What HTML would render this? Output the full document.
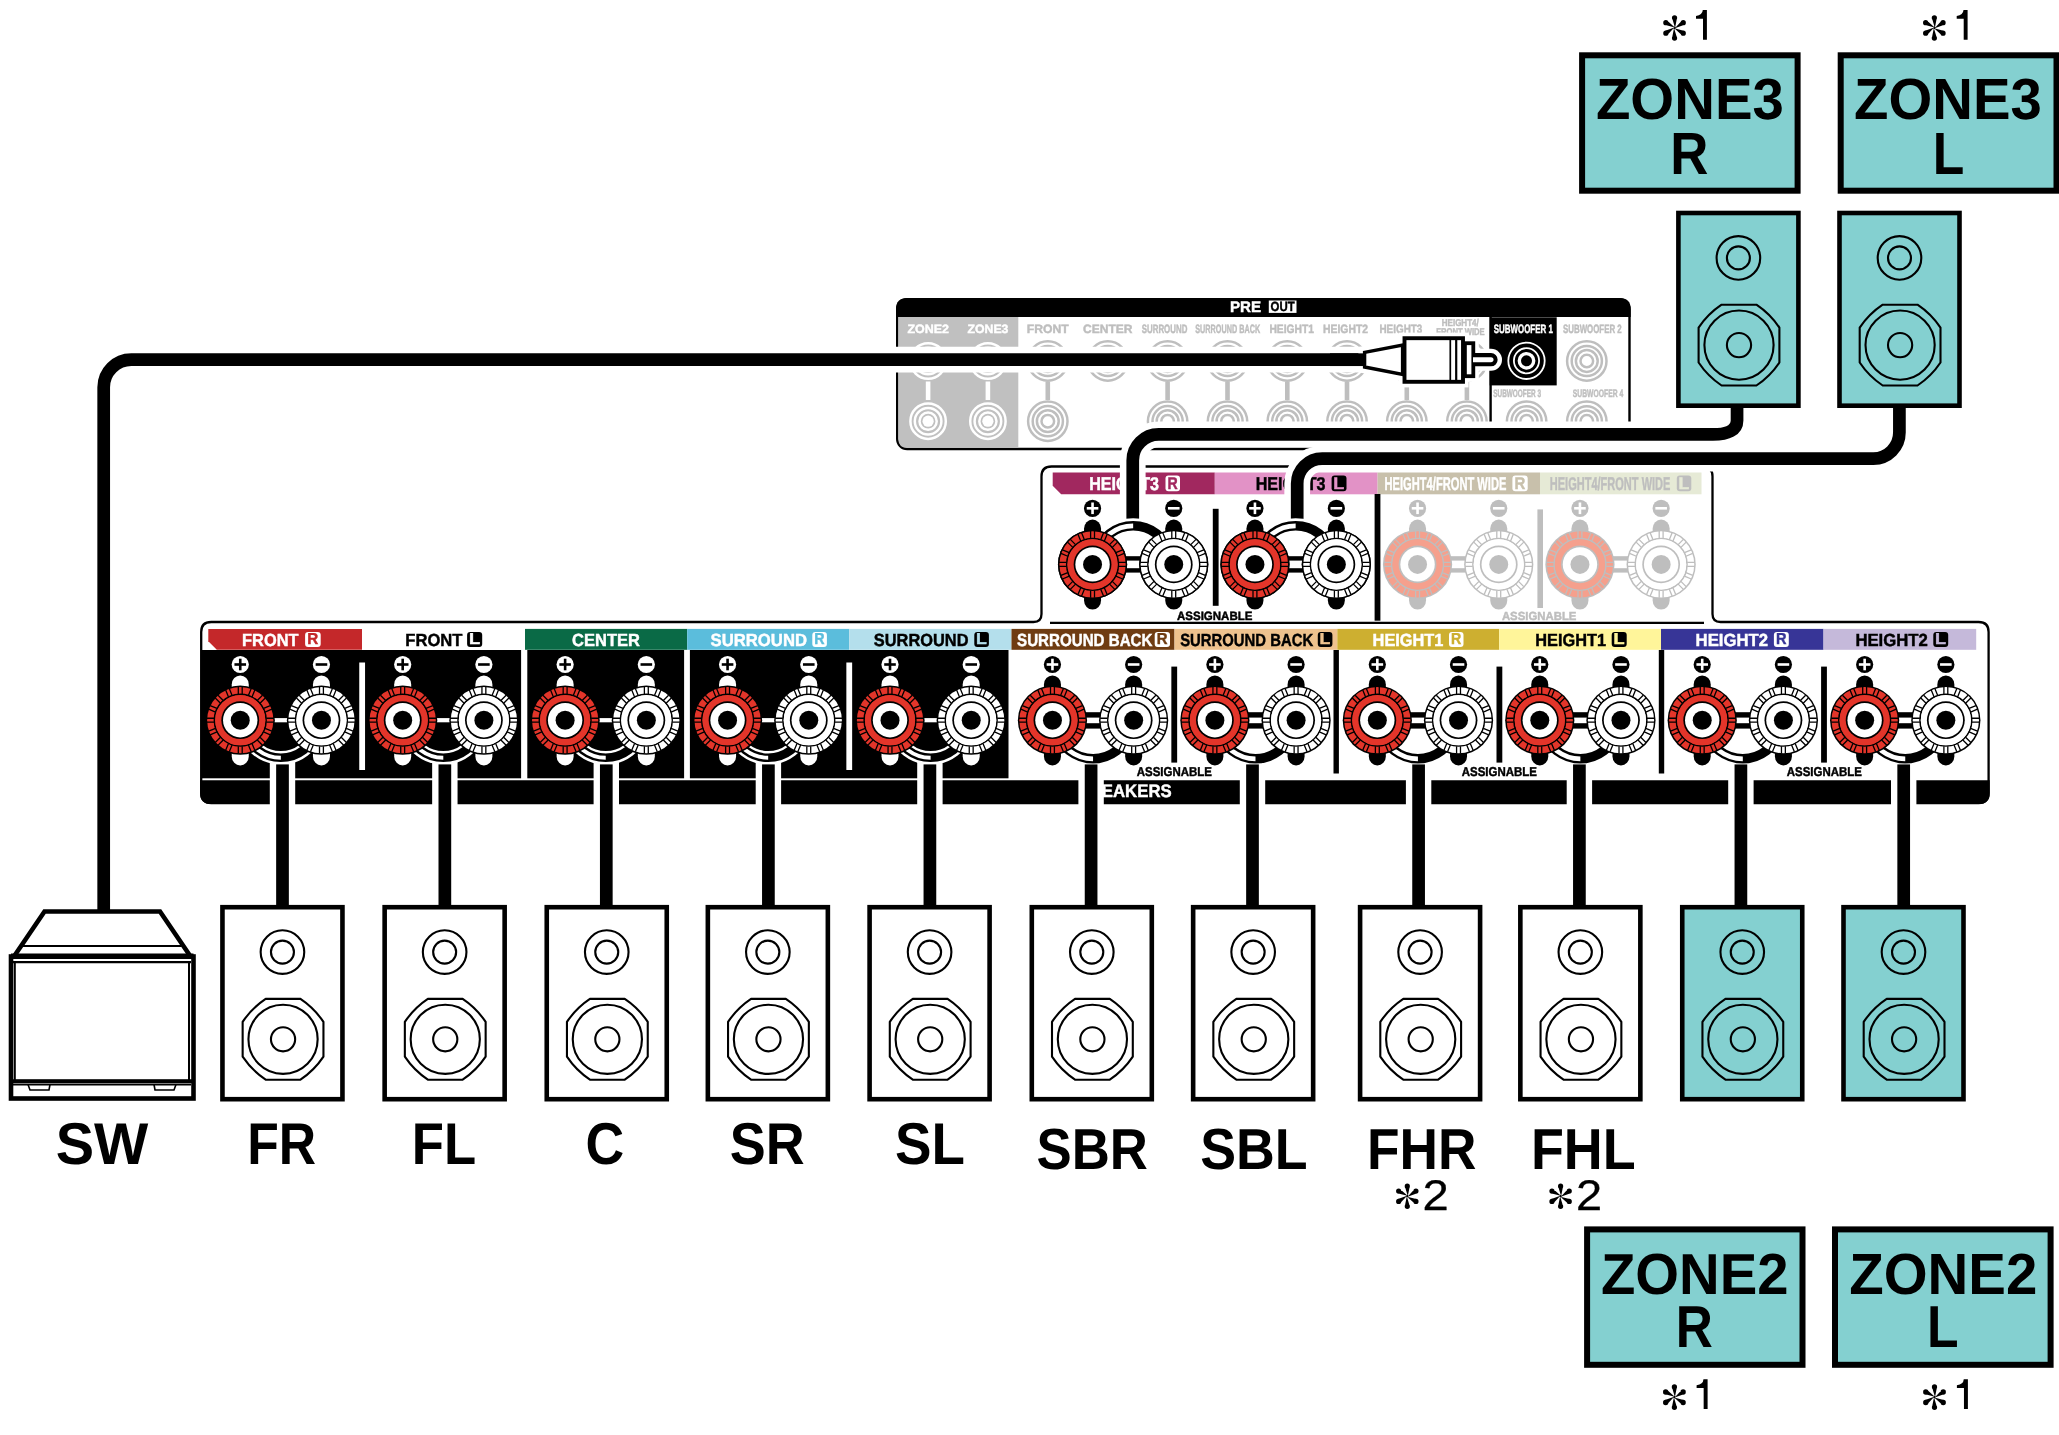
<!DOCTYPE html><html><head><meta charset="utf-8"><style>html,body{margin:0;padding:0;background:#fff;width:2059px;height:1435px;overflow:hidden;}svg{display:block;will-change:transform;font-family:"Liberation Sans",sans-serif;-webkit-font-smoothing:antialiased;text-rendering:geometricPrecision;}</style></head><body><svg width="2059" height="1435" viewBox="0 0 2059 1435" font-family="Liberation Sans, sans-serif"><rect x="0" y="0" width="2059" height="1435" fill="#fff"/>
<rect x="897.2" y="299.2" width="732.3" height="149.8" rx="10" fill="#fff" stroke="#000" stroke-width="2.4"/>
<path d="M 896.0 317.1 L 896.0 309.2 Q 896.0 298.0 907.2 298.0 L 1619.5 298.0 Q 1630.7 298.0 1630.7 309.2 L 1630.7 317.1 Z" fill="#000"/>
<text x="1229.89" y="312.00" font-size="15.26" textLength="31.10" lengthAdjust="spacingAndGlyphs" font-weight="bold" fill="#fff" stroke="#fff" stroke-width="0.45">PRE</text>
<rect x="1268.8" y="300.5" width="27.7" height="12.4" fill="#fff"/>
<text x="1270.53" y="311.40" font-size="13.37" textLength="24.09" lengthAdjust="spacingAndGlyphs" font-weight="bold" fill="#000" stroke="#000" stroke-width="0.45">OUT</text>
<path d="M 898.4 317.1 L 1018.3 317.1 L 1018.3 447.8 L 907.2 447.8 Q 898.4 447.8 898.4 439.0 Z" fill="#c0c0c0"/>
<text x="907.53" y="332.80" font-size="12.06" textLength="41.47" lengthAdjust="spacingAndGlyphs" font-weight="bold" fill="#fff" stroke="#fff" stroke-width="0.45">ZONE2</text>
<text x="967.53" y="332.80" font-size="12.06" textLength="40.91" lengthAdjust="spacingAndGlyphs" font-weight="bold" fill="#fff" stroke="#fff" stroke-width="0.45">ZONE3</text>
<text x="1026.69" y="332.80" font-size="12.06" textLength="41.95" lengthAdjust="spacingAndGlyphs" font-weight="bold" fill="#bebebe" stroke="#bebebe" stroke-width="0.45">FRONT</text>
<text x="1083.11" y="332.80" font-size="12.06" textLength="49.34" lengthAdjust="spacingAndGlyphs" font-weight="bold" fill="#bebebe" stroke="#bebebe" stroke-width="0.45">CENTER</text>
<text x="1141.77" y="332.80" font-size="12.06" textLength="45.56" lengthAdjust="spacingAndGlyphs" font-weight="bold" fill="#bebebe" stroke="#bebebe" stroke-width="0.45">SURROUND</text>
<text x="1195.29" y="332.80" font-size="12.06" textLength="64.88" lengthAdjust="spacingAndGlyphs" font-weight="bold" fill="#bebebe" stroke="#bebebe" stroke-width="0.45">SURROUND BACK</text>
<text x="1269.41" y="332.80" font-size="12.06" textLength="44.57" lengthAdjust="spacingAndGlyphs" font-weight="bold" fill="#bebebe" stroke="#bebebe" stroke-width="0.45">HEIGHT1</text>
<text x="1323.01" y="332.80" font-size="12.06" textLength="45.01" lengthAdjust="spacingAndGlyphs" font-weight="bold" fill="#bebebe" stroke="#bebebe" stroke-width="0.45">HEIGHT2</text>
<text x="1379.44" y="332.80" font-size="12.06" textLength="42.92" lengthAdjust="spacingAndGlyphs" font-weight="bold" fill="#bebebe" stroke="#bebebe" stroke-width="0.45">HEIGHT3</text>
<text x="1441.76" y="325.80" font-size="9.88" textLength="37.02" lengthAdjust="spacingAndGlyphs" font-weight="bold" fill="#bebebe" stroke="#bebebe" stroke-width="0.45">HEIGHT4/</text>
<text x="1436.29" y="334.80" font-size="9.88" textLength="48.41" lengthAdjust="spacingAndGlyphs" font-weight="bold" fill="#bebebe" stroke="#bebebe" stroke-width="0.45">FRONT WIDE</text>
<text x="1562.97" y="332.80" font-size="12.06" textLength="58.74" lengthAdjust="spacingAndGlyphs" font-weight="bold" fill="#bebebe" stroke="#bebebe" stroke-width="0.45">SUBWOOFER 2</text>
<text x="1493.21" y="397.00" font-size="10.90" textLength="47.82" lengthAdjust="spacingAndGlyphs" font-weight="bold" fill="#bebebe" stroke="#bebebe" stroke-width="0.45">SUBWOOFER 3</text>
<text x="1572.80" y="397.00" font-size="10.90" textLength="50.43" lengthAdjust="spacingAndGlyphs" font-weight="bold" fill="#bebebe" stroke="#bebebe" stroke-width="0.45">SUBWOOFER 4</text>
<circle cx="928.10" cy="361.00" r="17.70" fill="none" stroke="#fff" stroke-width="2.5"/>
<circle cx="928.10" cy="361.00" r="13.30" fill="none" stroke="#fff" stroke-width="2.5"/>
<circle cx="928.10" cy="361.00" r="8.60" fill="none" stroke="#fff" stroke-width="2.5"/>
<circle cx="928.10" cy="361.00" r="5.6" fill="#fff"/>
<circle cx="928.10" cy="421.20" r="17.70" fill="none" stroke="#fff" stroke-width="2.5"/>
<circle cx="928.10" cy="421.20" r="13.30" fill="none" stroke="#fff" stroke-width="2.5"/>
<circle cx="928.10" cy="421.20" r="8.60" fill="none" stroke="#fff" stroke-width="2.5"/>
<circle cx="928.10" cy="421.20" r="5.6" fill="#fff"/>
<rect x="925.80" y="381.5" width="4.6" height="18.5" fill="#fff"/>
<circle cx="987.90" cy="361.00" r="17.70" fill="none" stroke="#fff" stroke-width="2.5"/>
<circle cx="987.90" cy="361.00" r="13.30" fill="none" stroke="#fff" stroke-width="2.5"/>
<circle cx="987.90" cy="361.00" r="8.60" fill="none" stroke="#fff" stroke-width="2.5"/>
<circle cx="987.90" cy="361.00" r="5.6" fill="#fff"/>
<circle cx="987.90" cy="421.20" r="17.70" fill="none" stroke="#fff" stroke-width="2.5"/>
<circle cx="987.90" cy="421.20" r="13.30" fill="none" stroke="#fff" stroke-width="2.5"/>
<circle cx="987.90" cy="421.20" r="8.60" fill="none" stroke="#fff" stroke-width="2.5"/>
<circle cx="987.90" cy="421.20" r="5.6" fill="#fff"/>
<rect x="985.60" y="381.5" width="4.6" height="18.5" fill="#fff"/>
<circle cx="1047.80" cy="361.00" r="19.70" fill="none" stroke="#bebebe" stroke-width="2.5"/>
<circle cx="1047.80" cy="361.00" r="15.10" fill="none" stroke="#bebebe" stroke-width="2.5"/>
<circle cx="1047.80" cy="361.00" r="10.90" fill="none" stroke="#bebebe" stroke-width="2.5"/>
<circle cx="1047.80" cy="361.00" r="6.30" fill="none" stroke="#bebebe" stroke-width="2.5"/>
<circle cx="1047.80" cy="421.20" r="19.70" fill="none" stroke="#bebebe" stroke-width="2.5"/>
<circle cx="1047.80" cy="421.20" r="15.10" fill="none" stroke="#bebebe" stroke-width="2.5"/>
<circle cx="1047.80" cy="421.20" r="10.90" fill="none" stroke="#bebebe" stroke-width="2.5"/>
<circle cx="1047.80" cy="421.20" r="6.30" fill="none" stroke="#bebebe" stroke-width="2.5"/>
<rect x="1045.50" y="381.5" width="4.6" height="18.5" fill="#bebebe"/>
<circle cx="1107.80" cy="361.00" r="19.70" fill="none" stroke="#bebebe" stroke-width="2.5"/>
<circle cx="1107.80" cy="361.00" r="15.10" fill="none" stroke="#bebebe" stroke-width="2.5"/>
<circle cx="1107.80" cy="361.00" r="10.90" fill="none" stroke="#bebebe" stroke-width="2.5"/>
<circle cx="1107.80" cy="361.00" r="6.30" fill="none" stroke="#bebebe" stroke-width="2.5"/>
<circle cx="1167.60" cy="361.00" r="19.70" fill="none" stroke="#bebebe" stroke-width="2.5"/>
<circle cx="1167.60" cy="361.00" r="15.10" fill="none" stroke="#bebebe" stroke-width="2.5"/>
<circle cx="1167.60" cy="361.00" r="10.90" fill="none" stroke="#bebebe" stroke-width="2.5"/>
<circle cx="1167.60" cy="361.00" r="6.30" fill="none" stroke="#bebebe" stroke-width="2.5"/>
<circle cx="1167.60" cy="421.20" r="19.70" fill="none" stroke="#bebebe" stroke-width="2.5"/>
<circle cx="1167.60" cy="421.20" r="15.10" fill="none" stroke="#bebebe" stroke-width="2.5"/>
<circle cx="1167.60" cy="421.20" r="10.90" fill="none" stroke="#bebebe" stroke-width="2.5"/>
<circle cx="1167.60" cy="421.20" r="6.30" fill="none" stroke="#bebebe" stroke-width="2.5"/>
<rect x="1165.30" y="381.5" width="4.6" height="18.5" fill="#bebebe"/>
<circle cx="1227.50" cy="361.00" r="19.70" fill="none" stroke="#bebebe" stroke-width="2.5"/>
<circle cx="1227.50" cy="361.00" r="15.10" fill="none" stroke="#bebebe" stroke-width="2.5"/>
<circle cx="1227.50" cy="361.00" r="10.90" fill="none" stroke="#bebebe" stroke-width="2.5"/>
<circle cx="1227.50" cy="361.00" r="6.30" fill="none" stroke="#bebebe" stroke-width="2.5"/>
<circle cx="1227.50" cy="421.20" r="19.70" fill="none" stroke="#bebebe" stroke-width="2.5"/>
<circle cx="1227.50" cy="421.20" r="15.10" fill="none" stroke="#bebebe" stroke-width="2.5"/>
<circle cx="1227.50" cy="421.20" r="10.90" fill="none" stroke="#bebebe" stroke-width="2.5"/>
<circle cx="1227.50" cy="421.20" r="6.30" fill="none" stroke="#bebebe" stroke-width="2.5"/>
<rect x="1225.20" y="381.5" width="4.6" height="18.5" fill="#bebebe"/>
<circle cx="1287.30" cy="361.00" r="19.70" fill="none" stroke="#bebebe" stroke-width="2.5"/>
<circle cx="1287.30" cy="361.00" r="15.10" fill="none" stroke="#bebebe" stroke-width="2.5"/>
<circle cx="1287.30" cy="361.00" r="10.90" fill="none" stroke="#bebebe" stroke-width="2.5"/>
<circle cx="1287.30" cy="361.00" r="6.30" fill="none" stroke="#bebebe" stroke-width="2.5"/>
<circle cx="1287.30" cy="421.20" r="19.70" fill="none" stroke="#bebebe" stroke-width="2.5"/>
<circle cx="1287.30" cy="421.20" r="15.10" fill="none" stroke="#bebebe" stroke-width="2.5"/>
<circle cx="1287.30" cy="421.20" r="10.90" fill="none" stroke="#bebebe" stroke-width="2.5"/>
<circle cx="1287.30" cy="421.20" r="6.30" fill="none" stroke="#bebebe" stroke-width="2.5"/>
<rect x="1285.00" y="381.5" width="4.6" height="18.5" fill="#bebebe"/>
<circle cx="1347.00" cy="361.00" r="19.70" fill="none" stroke="#bebebe" stroke-width="2.5"/>
<circle cx="1347.00" cy="361.00" r="15.10" fill="none" stroke="#bebebe" stroke-width="2.5"/>
<circle cx="1347.00" cy="361.00" r="10.90" fill="none" stroke="#bebebe" stroke-width="2.5"/>
<circle cx="1347.00" cy="361.00" r="6.30" fill="none" stroke="#bebebe" stroke-width="2.5"/>
<circle cx="1347.00" cy="421.20" r="19.70" fill="none" stroke="#bebebe" stroke-width="2.5"/>
<circle cx="1347.00" cy="421.20" r="15.10" fill="none" stroke="#bebebe" stroke-width="2.5"/>
<circle cx="1347.00" cy="421.20" r="10.90" fill="none" stroke="#bebebe" stroke-width="2.5"/>
<circle cx="1347.00" cy="421.20" r="6.30" fill="none" stroke="#bebebe" stroke-width="2.5"/>
<rect x="1344.70" y="381.5" width="4.6" height="18.5" fill="#bebebe"/>
<circle cx="1406.80" cy="361.00" r="19.70" fill="none" stroke="#bebebe" stroke-width="2.5"/>
<circle cx="1406.80" cy="361.00" r="15.10" fill="none" stroke="#bebebe" stroke-width="2.5"/>
<circle cx="1406.80" cy="361.00" r="10.90" fill="none" stroke="#bebebe" stroke-width="2.5"/>
<circle cx="1406.80" cy="361.00" r="6.30" fill="none" stroke="#bebebe" stroke-width="2.5"/>
<circle cx="1406.80" cy="421.20" r="19.70" fill="none" stroke="#bebebe" stroke-width="2.5"/>
<circle cx="1406.80" cy="421.20" r="15.10" fill="none" stroke="#bebebe" stroke-width="2.5"/>
<circle cx="1406.80" cy="421.20" r="10.90" fill="none" stroke="#bebebe" stroke-width="2.5"/>
<circle cx="1406.80" cy="421.20" r="6.30" fill="none" stroke="#bebebe" stroke-width="2.5"/>
<rect x="1404.50" y="381.5" width="4.6" height="18.5" fill="#bebebe"/>
<circle cx="1466.90" cy="361.00" r="19.70" fill="none" stroke="#bebebe" stroke-width="2.5"/>
<circle cx="1466.90" cy="361.00" r="15.10" fill="none" stroke="#bebebe" stroke-width="2.5"/>
<circle cx="1466.90" cy="361.00" r="10.90" fill="none" stroke="#bebebe" stroke-width="2.5"/>
<circle cx="1466.90" cy="361.00" r="6.30" fill="none" stroke="#bebebe" stroke-width="2.5"/>
<circle cx="1466.90" cy="421.20" r="19.70" fill="none" stroke="#bebebe" stroke-width="2.5"/>
<circle cx="1466.90" cy="421.20" r="15.10" fill="none" stroke="#bebebe" stroke-width="2.5"/>
<circle cx="1466.90" cy="421.20" r="10.90" fill="none" stroke="#bebebe" stroke-width="2.5"/>
<circle cx="1466.90" cy="421.20" r="6.30" fill="none" stroke="#bebebe" stroke-width="2.5"/>
<rect x="1464.60" y="381.5" width="4.6" height="18.5" fill="#bebebe"/>
<line x1="1490.6" y1="317" x2="1490.6" y2="430" stroke="#000" stroke-width="2.4"/>
<rect x="1489.7" y="317.3" width="67" height="68.1" fill="#000"/>
<text x="1493.77" y="332.90" font-size="12.21" textLength="59.05" lengthAdjust="spacingAndGlyphs" font-weight="bold" fill="#fff" stroke="#fff" stroke-width="0.45">SUBWOOFER 1</text>
<circle cx="1586.80" cy="361.00" r="19.70" fill="none" stroke="#bebebe" stroke-width="2.5"/>
<circle cx="1586.80" cy="361.00" r="15.10" fill="none" stroke="#bebebe" stroke-width="2.5"/>
<circle cx="1586.80" cy="361.00" r="10.90" fill="none" stroke="#bebebe" stroke-width="2.5"/>
<circle cx="1586.80" cy="361.00" r="6.30" fill="none" stroke="#bebebe" stroke-width="2.5"/>
<circle cx="1526.60" cy="421.30" r="19.70" fill="none" stroke="#bebebe" stroke-width="2.5"/>
<circle cx="1526.60" cy="421.30" r="15.10" fill="none" stroke="#bebebe" stroke-width="2.5"/>
<circle cx="1526.60" cy="421.30" r="10.90" fill="none" stroke="#bebebe" stroke-width="2.5"/>
<circle cx="1526.60" cy="421.30" r="6.30" fill="none" stroke="#bebebe" stroke-width="2.5"/>
<circle cx="1586.80" cy="421.30" r="19.70" fill="none" stroke="#bebebe" stroke-width="2.5"/>
<circle cx="1586.80" cy="421.30" r="15.10" fill="none" stroke="#bebebe" stroke-width="2.5"/>
<circle cx="1586.80" cy="421.30" r="10.90" fill="none" stroke="#bebebe" stroke-width="2.5"/>
<circle cx="1586.80" cy="421.30" r="6.30" fill="none" stroke="#bebebe" stroke-width="2.5"/>
<circle cx="1526.5" cy="360.8" r="18.2" fill="none" stroke="#fff" stroke-width="1.8"/>
<circle cx="1526.5" cy="360.8" r="12.6" fill="none" stroke="#fff" stroke-width="1.8"/>
<circle cx="1526.5" cy="360.8" r="7.2" fill="none" stroke="#fff" stroke-width="3.4"/>
<path d="M 201.2 632.0 Q 201.2 622.0 211.2 622.0 L 1033.5 622.0 Q 1041.5 622.0 1041.5 614.0 L 1041.5 476.5 Q 1041.5 466.5 1051.5 466.5 L 1702.5 466.5 Q 1712.5 466.5 1712.5 476.5 L 1712.5 614.0 Q 1712.5 622.0 1720.5 622.0 L 1978.6 622.0 Q 1988.6 622.0 1988.6 632.0 L 1988.6 793.0 Q 1988.6 803.0 1978.6 803.0 L 211.2 803.0 Q 201.2 803.0 201.2 793.0 Z" fill="#fff" stroke="#000" stroke-width="2.3"/>
<line x1="1050" y1="622.8" x2="1704" y2="622.8" stroke="#000" stroke-width="2.3"/>
<path d="M 200.1 780.3 L 1989.7 780.3 L 1989.7 793.0 Q 1989.7 804.1 1978.6 804.1 L 211.2 804.1 Q 200.1 804.1 200.1 793.0 Z" fill="#000"/>
<text x="1079.52" y="797.00" font-size="18.02" textLength="92.14" lengthAdjust="spacingAndGlyphs" font-weight="bold" fill="#fff" stroke="#fff" stroke-width="0.45">SPEAKERS</text>
<rect x="202" y="650" width="319.1" height="128.3" fill="#000"/>
<rect x="527.3" y="650" width="156.8" height="128.3" fill="#000"/>
<rect x="689.9" y="650" width="318.6" height="128.3" fill="#000"/>
<rect x="359.25" y="662.5" width="5.8" height="107.5" fill="#fff"/>
<rect x="846.35" y="662.5" width="5.8" height="107.5" fill="#fff"/>
<rect x="1171.35" y="666.6" width="5.8" height="96" fill="#000"/>
<rect x="1496.50" y="666.6" width="5.8" height="96" fill="#000"/>
<rect x="1821.10" y="666.6" width="5.8" height="96" fill="#000"/>
<rect x="1333.50" y="650" width="5.4" height="123.5" fill="#000"/>
<rect x="1658.80" y="650" width="5.4" height="123.5" fill="#000"/>
<path d="M 208.30 628.90 L 362.00 628.90 L 362.00 649.80 L 216.80 649.80 L 208.30 641.30 Z" fill="#c4282a"/>
<text x="242.11" y="645.50" font-size="17.59" textLength="56.37" lengthAdjust="spacingAndGlyphs" font-weight="bold" fill="#fff" stroke="#fff" stroke-width="0.45">FRONT</text>
<rect x="305.10" y="632.00" width="15.60" height="14.90" rx="3" fill="#fff"/>
<text x="307.20" y="644.40" font-size="15.84" textLength="11.00" lengthAdjust="spacingAndGlyphs" font-weight="bold" fill="#c4282a" stroke="#c4282a" stroke-width="0.45">R</text>
<rect x="362.00" y="628.90" width="163.00" height="20.90" fill="#fff"/>
<text x="405.29" y="645.50" font-size="17.59" textLength="57.19" lengthAdjust="spacingAndGlyphs" font-weight="bold" fill="#000" stroke="#000" stroke-width="0.45">FRONT</text>
<rect x="467.10" y="632.00" width="15.10" height="14.90" rx="3" fill="#000"/>
<text x="468.90" y="644.40" font-size="15.84" textLength="11.14" lengthAdjust="spacingAndGlyphs" font-weight="bold" fill="#fff" stroke="#fff" stroke-width="0.45">L</text>
<rect x="525.00" y="628.90" width="162.20" height="20.90" fill="#0a6a46"/>
<text x="572.12" y="645.50" font-size="17.59" textLength="67.71" lengthAdjust="spacingAndGlyphs" font-weight="bold" fill="#fff" stroke="#fff" stroke-width="0.45">CENTER</text>
<rect x="687.20" y="628.90" width="162.10" height="20.90" fill="#5bbddc"/>
<text x="710.62" y="645.50" font-size="17.59" textLength="96.38" lengthAdjust="spacingAndGlyphs" font-weight="bold" fill="#fff" stroke="#fff" stroke-width="0.45">SURROUND</text>
<rect x="812.30" y="632.00" width="14.60" height="14.90" rx="3" fill="#fff"/>
<text x="814.27" y="644.40" font-size="15.84" textLength="10.30" lengthAdjust="spacingAndGlyphs" font-weight="bold" fill="#5bbddc" stroke="#5bbddc" stroke-width="0.45">R</text>
<rect x="849.30" y="628.90" width="162.20" height="20.90" fill="#b4dfec"/>
<text x="873.83" y="645.50" font-size="17.59" textLength="94.66" lengthAdjust="spacingAndGlyphs" font-weight="bold" fill="#000" stroke="#000" stroke-width="0.45">SURROUND</text>
<rect x="974.30" y="632.00" width="14.60" height="14.90" rx="3" fill="#000"/>
<text x="976.04" y="644.40" font-size="15.84" textLength="10.77" lengthAdjust="spacingAndGlyphs" font-weight="bold" fill="#b4dfec" stroke="#b4dfec" stroke-width="0.45">L</text>
<rect x="1011.50" y="628.90" width="163.00" height="20.90" fill="#6f3c12"/>
<text x="1017.06" y="645.50" font-size="17.59" textLength="135.38" lengthAdjust="spacingAndGlyphs" font-weight="bold" fill="#fff" stroke="#fff" stroke-width="0.45">SURROUND BACK</text>
<rect x="1154.70" y="632.00" width="15.30" height="14.90" rx="3" fill="#fff"/>
<text x="1156.76" y="644.40" font-size="15.84" textLength="10.79" lengthAdjust="spacingAndGlyphs" font-weight="bold" fill="#6f3c12" stroke="#6f3c12" stroke-width="0.45">R</text>
<rect x="1174.50" y="628.90" width="162.80" height="20.90" fill="#eec28e"/>
<text x="1180.17" y="645.50" font-size="17.59" textLength="132.97" lengthAdjust="spacingAndGlyphs" font-weight="bold" fill="#000" stroke="#000" stroke-width="0.45">SURROUND BACK</text>
<rect x="1317.80" y="632.00" width="14.60" height="14.90" rx="3" fill="#000"/>
<text x="1319.54" y="644.40" font-size="15.84" textLength="10.77" lengthAdjust="spacingAndGlyphs" font-weight="bold" fill="#eec28e" stroke="#eec28e" stroke-width="0.45">L</text>
<rect x="1337.30" y="628.90" width="161.90" height="20.90" fill="#cdaf30"/>
<text x="1372.61" y="645.50" font-size="17.59" textLength="70.75" lengthAdjust="spacingAndGlyphs" font-weight="bold" fill="#fff" stroke="#fff" stroke-width="0.45">HEIGHT1</text>
<rect x="1449.00" y="632.00" width="14.50" height="14.90" rx="3" fill="#fff"/>
<text x="1450.95" y="644.40" font-size="15.84" textLength="10.23" lengthAdjust="spacingAndGlyphs" font-weight="bold" fill="#cdaf30" stroke="#cdaf30" stroke-width="0.45">R</text>
<rect x="1499.20" y="628.90" width="161.80" height="20.90" fill="#fff59a"/>
<text x="1535.31" y="645.50" font-size="17.59" textLength="70.75" lengthAdjust="spacingAndGlyphs" font-weight="bold" fill="#000" stroke="#000" stroke-width="0.45">HEIGHT1</text>
<rect x="1611.70" y="632.00" width="15.00" height="14.90" rx="3" fill="#000"/>
<text x="1613.49" y="644.40" font-size="15.84" textLength="11.07" lengthAdjust="spacingAndGlyphs" font-weight="bold" fill="#fff59a" stroke="#fff59a" stroke-width="0.45">L</text>
<rect x="1661.00" y="628.90" width="162.50" height="20.90" fill="#373597"/>
<text x="1695.58" y="645.50" font-size="17.59" textLength="72.39" lengthAdjust="spacingAndGlyphs" font-weight="bold" fill="#fff" stroke="#fff" stroke-width="0.45">HEIGHT2</text>
<rect x="1773.90" y="632.00" width="14.90" height="14.90" rx="3" fill="#fff"/>
<text x="1775.91" y="644.40" font-size="15.84" textLength="10.51" lengthAdjust="spacingAndGlyphs" font-weight="bold" fill="#373597" stroke="#373597" stroke-width="0.45">R</text>
<rect x="1823.50" y="628.90" width="152.70" height="20.90" fill="#c5b9da"/>
<text x="1855.38" y="645.50" font-size="17.59" textLength="72.49" lengthAdjust="spacingAndGlyphs" font-weight="bold" fill="#000" stroke="#000" stroke-width="0.45">HEIGHT2</text>
<rect x="1933.30" y="632.00" width="14.90" height="14.90" rx="3" fill="#000"/>
<text x="1935.08" y="644.40" font-size="15.84" textLength="11.00" lengthAdjust="spacingAndGlyphs" font-weight="bold" fill="#c5b9da" stroke="#c5b9da" stroke-width="0.45">L</text>
<rect x="231.75" y="675.40" width="17" height="90" rx="8.5" ry="9" fill="#fff"/>
<rect x="312.95" y="675.40" width="17" height="90" rx="8.5" ry="9" fill="#fff"/>
<circle cx="240.25" cy="664.50" r="8.6" fill="#fff"/>
<rect x="234.45" y="663.20" width="11.6" height="2.6" fill="#000"/>
<rect x="238.95" y="658.70" width="2.6" height="11.6" fill="#000"/>
<circle cx="321.45" cy="664.50" r="8.6" fill="#fff"/>
<rect x="315.65" y="663.20" width="11.6" height="2.6" fill="#000"/>
<rect x="270.25" y="718.10" width="21.00" height="4.2" fill="#fff"/>
<rect x="269.80" y="758.20" width="25.4" height="146.80" fill="#fff"/>
<path d="M 244.53 729.93 A 37.60 37.60 0 0 0 317.17 729.93" fill="none" stroke="#fff" stroke-width="13.5"/>
<path d="M 244.53 729.93 A 37.60 37.60 0 0 0 317.17 729.93" fill="none" stroke="#000" stroke-width="8.6"/>
<path d="M 244.53 729.93 A 37.60 37.60 0 0 0 280.85 757.80" fill="none" stroke="#fff" stroke-width="4.0"/>
<rect x="276.15" y="764.40" width="12.7" height="141.60" fill="#000"/>
<g transform="translate(240.25 720.20)"><circle r="34.6" fill="#000"/><circle r="33.1" fill="#e3352a"/><path d="M 26.00 -1.95 L 33.40 -1.95 M 26.00 1.95 L 33.40 1.95 M 24.77 8.15 L 31.60 10.98 M 23.27 11.75 L 30.11 14.58 M 19.76 17.01 L 25.00 22.24 M 17.01 19.76 L 22.24 25.00 M 11.75 23.27 L 14.58 30.11 M 8.15 24.77 L 10.98 31.60 M 1.95 26.00 L 1.95 33.40 M -1.95 26.00 L -1.95 33.40 M -8.15 24.77 L -10.98 31.60 M -11.75 23.27 L -14.58 30.11 M -17.01 19.76 L -22.24 25.00 M -19.76 17.01 L -25.00 22.24 M -23.27 11.75 L -30.11 14.58 M -24.77 8.15 L -31.60 10.98 M -26.00 1.95 L -33.40 1.95 M -26.00 -1.95 L -33.40 -1.95 M -24.77 -8.15 L -31.60 -10.98 M -23.27 -11.75 L -30.11 -14.58 M -19.76 -17.01 L -25.00 -22.24 M -17.01 -19.76 L -22.24 -25.00 M -11.75 -23.27 L -14.58 -30.11 M -8.15 -24.77 L -10.98 -31.60 M -1.95 -26.00 L -1.95 -33.40 M 1.95 -26.00 L 1.95 -33.40 M 8.15 -24.77 L 10.98 -31.60 M 11.75 -23.27 L 14.58 -30.11 M 17.01 -19.76 L 22.24 -25.00 M 19.76 -17.01 L 25.00 -22.24 M 23.27 -11.75 L 30.11 -14.58 M 24.77 -8.15 L 31.60 -10.98" stroke="#000" stroke-width="1.3"/><circle r="25.85" fill="none" stroke="#000" stroke-width="1.6"/><circle r="25.1" fill="#e3352a"/><circle r="18.9" fill="#000"/><circle r="17.2" fill="#fff"/><circle r="9.5" fill="#000"/></g>
<g transform="translate(321.45 720.20)"><circle r="34.6" fill="#000"/><circle r="33.1" fill="#fff"/><path d="M 26.00 -1.95 L 33.40 -1.95 M 26.00 1.95 L 33.40 1.95 M 24.77 8.15 L 31.60 10.98 M 23.27 11.75 L 30.11 14.58 M 19.76 17.01 L 25.00 22.24 M 17.01 19.76 L 22.24 25.00 M 11.75 23.27 L 14.58 30.11 M 8.15 24.77 L 10.98 31.60 M 1.95 26.00 L 1.95 33.40 M -1.95 26.00 L -1.95 33.40 M -8.15 24.77 L -10.98 31.60 M -11.75 23.27 L -14.58 30.11 M -17.01 19.76 L -22.24 25.00 M -19.76 17.01 L -25.00 22.24 M -23.27 11.75 L -30.11 14.58 M -24.77 8.15 L -31.60 10.98 M -26.00 1.95 L -33.40 1.95 M -26.00 -1.95 L -33.40 -1.95 M -24.77 -8.15 L -31.60 -10.98 M -23.27 -11.75 L -30.11 -14.58 M -19.76 -17.01 L -25.00 -22.24 M -17.01 -19.76 L -22.24 -25.00 M -11.75 -23.27 L -14.58 -30.11 M -8.15 -24.77 L -10.98 -31.60 M -1.95 -26.00 L -1.95 -33.40 M 1.95 -26.00 L 1.95 -33.40 M 8.15 -24.77 L 10.98 -31.60 M 11.75 -23.27 L 14.58 -30.11 M 17.01 -19.76 L 22.24 -25.00 M 19.76 -17.01 L 25.00 -22.24 M 23.27 -11.75 L 30.11 -14.58 M 24.77 -8.15 L 31.60 -10.98" stroke="#000" stroke-width="1.3"/><circle r="25.85" fill="none" stroke="#000" stroke-width="1.6"/><circle r="25.1" fill="#fff"/><circle r="18.9" fill="#000"/><circle r="17.2" fill="#fff"/><circle r="9.5" fill="#000"/></g>
<rect x="394.19" y="675.40" width="17" height="90" rx="8.5" ry="9" fill="#fff"/>
<rect x="475.39" y="675.40" width="17" height="90" rx="8.5" ry="9" fill="#fff"/>
<circle cx="402.69" cy="664.50" r="8.6" fill="#fff"/>
<rect x="396.89" y="663.20" width="11.6" height="2.6" fill="#000"/>
<rect x="401.39" y="658.70" width="2.6" height="11.6" fill="#000"/>
<circle cx="483.89" cy="664.50" r="8.6" fill="#fff"/>
<rect x="478.09" y="663.20" width="11.6" height="2.6" fill="#000"/>
<rect x="432.69" y="718.10" width="21.00" height="4.2" fill="#fff"/>
<rect x="432.15" y="758.20" width="25.4" height="146.80" fill="#fff"/>
<path d="M 406.97 729.93 A 37.60 37.60 0 0 0 479.61 729.93" fill="none" stroke="#fff" stroke-width="13.5"/>
<path d="M 406.97 729.93 A 37.60 37.60 0 0 0 479.61 729.93" fill="none" stroke="#000" stroke-width="8.6"/>
<path d="M 406.97 729.93 A 37.60 37.60 0 0 0 443.29 757.80" fill="none" stroke="#fff" stroke-width="4.0"/>
<rect x="438.50" y="764.40" width="12.7" height="141.60" fill="#000"/>
<g transform="translate(402.69 720.20)"><circle r="34.6" fill="#000"/><circle r="33.1" fill="#e3352a"/><path d="M 26.00 -1.95 L 33.40 -1.95 M 26.00 1.95 L 33.40 1.95 M 24.77 8.15 L 31.60 10.98 M 23.27 11.75 L 30.11 14.58 M 19.76 17.01 L 25.00 22.24 M 17.01 19.76 L 22.24 25.00 M 11.75 23.27 L 14.58 30.11 M 8.15 24.77 L 10.98 31.60 M 1.95 26.00 L 1.95 33.40 M -1.95 26.00 L -1.95 33.40 M -8.15 24.77 L -10.98 31.60 M -11.75 23.27 L -14.58 30.11 M -17.01 19.76 L -22.24 25.00 M -19.76 17.01 L -25.00 22.24 M -23.27 11.75 L -30.11 14.58 M -24.77 8.15 L -31.60 10.98 M -26.00 1.95 L -33.40 1.95 M -26.00 -1.95 L -33.40 -1.95 M -24.77 -8.15 L -31.60 -10.98 M -23.27 -11.75 L -30.11 -14.58 M -19.76 -17.01 L -25.00 -22.24 M -17.01 -19.76 L -22.24 -25.00 M -11.75 -23.27 L -14.58 -30.11 M -8.15 -24.77 L -10.98 -31.60 M -1.95 -26.00 L -1.95 -33.40 M 1.95 -26.00 L 1.95 -33.40 M 8.15 -24.77 L 10.98 -31.60 M 11.75 -23.27 L 14.58 -30.11 M 17.01 -19.76 L 22.24 -25.00 M 19.76 -17.01 L 25.00 -22.24 M 23.27 -11.75 L 30.11 -14.58 M 24.77 -8.15 L 31.60 -10.98" stroke="#000" stroke-width="1.3"/><circle r="25.85" fill="none" stroke="#000" stroke-width="1.6"/><circle r="25.1" fill="#e3352a"/><circle r="18.9" fill="#000"/><circle r="17.2" fill="#fff"/><circle r="9.5" fill="#000"/></g>
<g transform="translate(483.89 720.20)"><circle r="34.6" fill="#000"/><circle r="33.1" fill="#fff"/><path d="M 26.00 -1.95 L 33.40 -1.95 M 26.00 1.95 L 33.40 1.95 M 24.77 8.15 L 31.60 10.98 M 23.27 11.75 L 30.11 14.58 M 19.76 17.01 L 25.00 22.24 M 17.01 19.76 L 22.24 25.00 M 11.75 23.27 L 14.58 30.11 M 8.15 24.77 L 10.98 31.60 M 1.95 26.00 L 1.95 33.40 M -1.95 26.00 L -1.95 33.40 M -8.15 24.77 L -10.98 31.60 M -11.75 23.27 L -14.58 30.11 M -17.01 19.76 L -22.24 25.00 M -19.76 17.01 L -25.00 22.24 M -23.27 11.75 L -30.11 14.58 M -24.77 8.15 L -31.60 10.98 M -26.00 1.95 L -33.40 1.95 M -26.00 -1.95 L -33.40 -1.95 M -24.77 -8.15 L -31.60 -10.98 M -23.27 -11.75 L -30.11 -14.58 M -19.76 -17.01 L -25.00 -22.24 M -17.01 -19.76 L -22.24 -25.00 M -11.75 -23.27 L -14.58 -30.11 M -8.15 -24.77 L -10.98 -31.60 M -1.95 -26.00 L -1.95 -33.40 M 1.95 -26.00 L 1.95 -33.40 M 8.15 -24.77 L 10.98 -31.60 M 11.75 -23.27 L 14.58 -30.11 M 17.01 -19.76 L 22.24 -25.00 M 19.76 -17.01 L 25.00 -22.24 M 23.27 -11.75 L 30.11 -14.58 M 24.77 -8.15 L 31.60 -10.98" stroke="#000" stroke-width="1.3"/><circle r="25.85" fill="none" stroke="#000" stroke-width="1.6"/><circle r="25.1" fill="#fff"/><circle r="18.9" fill="#000"/><circle r="17.2" fill="#fff"/><circle r="9.5" fill="#000"/></g>
<rect x="556.63" y="675.40" width="17" height="90" rx="8.5" ry="9" fill="#fff"/>
<rect x="637.83" y="675.40" width="17" height="90" rx="8.5" ry="9" fill="#fff"/>
<circle cx="565.13" cy="664.50" r="8.6" fill="#fff"/>
<rect x="559.33" y="663.20" width="11.6" height="2.6" fill="#000"/>
<rect x="563.83" y="658.70" width="2.6" height="11.6" fill="#000"/>
<circle cx="646.33" cy="664.50" r="8.6" fill="#fff"/>
<rect x="640.53" y="663.20" width="11.6" height="2.6" fill="#000"/>
<rect x="595.13" y="718.10" width="21.00" height="4.2" fill="#fff"/>
<rect x="593.60" y="758.20" width="25.4" height="146.80" fill="#fff"/>
<path d="M 569.41 729.93 A 37.60 37.60 0 0 0 642.05 729.93" fill="none" stroke="#fff" stroke-width="13.5"/>
<path d="M 569.41 729.93 A 37.60 37.60 0 0 0 642.05 729.93" fill="none" stroke="#000" stroke-width="8.6"/>
<path d="M 569.41 729.93 A 37.60 37.60 0 0 0 605.73 757.80" fill="none" stroke="#fff" stroke-width="4.0"/>
<rect x="599.95" y="764.40" width="12.7" height="141.60" fill="#000"/>
<g transform="translate(565.13 720.20)"><circle r="34.6" fill="#000"/><circle r="33.1" fill="#e3352a"/><path d="M 26.00 -1.95 L 33.40 -1.95 M 26.00 1.95 L 33.40 1.95 M 24.77 8.15 L 31.60 10.98 M 23.27 11.75 L 30.11 14.58 M 19.76 17.01 L 25.00 22.24 M 17.01 19.76 L 22.24 25.00 M 11.75 23.27 L 14.58 30.11 M 8.15 24.77 L 10.98 31.60 M 1.95 26.00 L 1.95 33.40 M -1.95 26.00 L -1.95 33.40 M -8.15 24.77 L -10.98 31.60 M -11.75 23.27 L -14.58 30.11 M -17.01 19.76 L -22.24 25.00 M -19.76 17.01 L -25.00 22.24 M -23.27 11.75 L -30.11 14.58 M -24.77 8.15 L -31.60 10.98 M -26.00 1.95 L -33.40 1.95 M -26.00 -1.95 L -33.40 -1.95 M -24.77 -8.15 L -31.60 -10.98 M -23.27 -11.75 L -30.11 -14.58 M -19.76 -17.01 L -25.00 -22.24 M -17.01 -19.76 L -22.24 -25.00 M -11.75 -23.27 L -14.58 -30.11 M -8.15 -24.77 L -10.98 -31.60 M -1.95 -26.00 L -1.95 -33.40 M 1.95 -26.00 L 1.95 -33.40 M 8.15 -24.77 L 10.98 -31.60 M 11.75 -23.27 L 14.58 -30.11 M 17.01 -19.76 L 22.24 -25.00 M 19.76 -17.01 L 25.00 -22.24 M 23.27 -11.75 L 30.11 -14.58 M 24.77 -8.15 L 31.60 -10.98" stroke="#000" stroke-width="1.3"/><circle r="25.85" fill="none" stroke="#000" stroke-width="1.6"/><circle r="25.1" fill="#e3352a"/><circle r="18.9" fill="#000"/><circle r="17.2" fill="#fff"/><circle r="9.5" fill="#000"/></g>
<g transform="translate(646.33 720.20)"><circle r="34.6" fill="#000"/><circle r="33.1" fill="#fff"/><path d="M 26.00 -1.95 L 33.40 -1.95 M 26.00 1.95 L 33.40 1.95 M 24.77 8.15 L 31.60 10.98 M 23.27 11.75 L 30.11 14.58 M 19.76 17.01 L 25.00 22.24 M 17.01 19.76 L 22.24 25.00 M 11.75 23.27 L 14.58 30.11 M 8.15 24.77 L 10.98 31.60 M 1.95 26.00 L 1.95 33.40 M -1.95 26.00 L -1.95 33.40 M -8.15 24.77 L -10.98 31.60 M -11.75 23.27 L -14.58 30.11 M -17.01 19.76 L -22.24 25.00 M -19.76 17.01 L -25.00 22.24 M -23.27 11.75 L -30.11 14.58 M -24.77 8.15 L -31.60 10.98 M -26.00 1.95 L -33.40 1.95 M -26.00 -1.95 L -33.40 -1.95 M -24.77 -8.15 L -31.60 -10.98 M -23.27 -11.75 L -30.11 -14.58 M -19.76 -17.01 L -25.00 -22.24 M -17.01 -19.76 L -22.24 -25.00 M -11.75 -23.27 L -14.58 -30.11 M -8.15 -24.77 L -10.98 -31.60 M -1.95 -26.00 L -1.95 -33.40 M 1.95 -26.00 L 1.95 -33.40 M 8.15 -24.77 L 10.98 -31.60 M 11.75 -23.27 L 14.58 -30.11 M 17.01 -19.76 L 22.24 -25.00 M 19.76 -17.01 L 25.00 -22.24 M 23.27 -11.75 L 30.11 -14.58 M 24.77 -8.15 L 31.60 -10.98" stroke="#000" stroke-width="1.3"/><circle r="25.85" fill="none" stroke="#000" stroke-width="1.6"/><circle r="25.1" fill="#fff"/><circle r="18.9" fill="#000"/><circle r="17.2" fill="#fff"/><circle r="9.5" fill="#000"/></g>
<rect x="719.07" y="675.40" width="17" height="90" rx="8.5" ry="9" fill="#fff"/>
<rect x="800.27" y="675.40" width="17" height="90" rx="8.5" ry="9" fill="#fff"/>
<circle cx="727.57" cy="664.50" r="8.6" fill="#fff"/>
<rect x="721.77" y="663.20" width="11.6" height="2.6" fill="#000"/>
<rect x="726.27" y="658.70" width="2.6" height="11.6" fill="#000"/>
<circle cx="808.77" cy="664.50" r="8.6" fill="#fff"/>
<rect x="802.97" y="663.20" width="11.6" height="2.6" fill="#000"/>
<rect x="757.57" y="718.10" width="21.00" height="4.2" fill="#fff"/>
<rect x="755.70" y="758.20" width="25.4" height="146.80" fill="#fff"/>
<path d="M 731.85 729.93 A 37.60 37.60 0 0 0 804.49 729.93" fill="none" stroke="#fff" stroke-width="13.5"/>
<path d="M 731.85 729.93 A 37.60 37.60 0 0 0 804.49 729.93" fill="none" stroke="#000" stroke-width="8.6"/>
<path d="M 731.85 729.93 A 37.60 37.60 0 0 0 768.17 757.80" fill="none" stroke="#fff" stroke-width="4.0"/>
<rect x="762.05" y="764.40" width="12.7" height="141.60" fill="#000"/>
<g transform="translate(727.57 720.20)"><circle r="34.6" fill="#000"/><circle r="33.1" fill="#e3352a"/><path d="M 26.00 -1.95 L 33.40 -1.95 M 26.00 1.95 L 33.40 1.95 M 24.77 8.15 L 31.60 10.98 M 23.27 11.75 L 30.11 14.58 M 19.76 17.01 L 25.00 22.24 M 17.01 19.76 L 22.24 25.00 M 11.75 23.27 L 14.58 30.11 M 8.15 24.77 L 10.98 31.60 M 1.95 26.00 L 1.95 33.40 M -1.95 26.00 L -1.95 33.40 M -8.15 24.77 L -10.98 31.60 M -11.75 23.27 L -14.58 30.11 M -17.01 19.76 L -22.24 25.00 M -19.76 17.01 L -25.00 22.24 M -23.27 11.75 L -30.11 14.58 M -24.77 8.15 L -31.60 10.98 M -26.00 1.95 L -33.40 1.95 M -26.00 -1.95 L -33.40 -1.95 M -24.77 -8.15 L -31.60 -10.98 M -23.27 -11.75 L -30.11 -14.58 M -19.76 -17.01 L -25.00 -22.24 M -17.01 -19.76 L -22.24 -25.00 M -11.75 -23.27 L -14.58 -30.11 M -8.15 -24.77 L -10.98 -31.60 M -1.95 -26.00 L -1.95 -33.40 M 1.95 -26.00 L 1.95 -33.40 M 8.15 -24.77 L 10.98 -31.60 M 11.75 -23.27 L 14.58 -30.11 M 17.01 -19.76 L 22.24 -25.00 M 19.76 -17.01 L 25.00 -22.24 M 23.27 -11.75 L 30.11 -14.58 M 24.77 -8.15 L 31.60 -10.98" stroke="#000" stroke-width="1.3"/><circle r="25.85" fill="none" stroke="#000" stroke-width="1.6"/><circle r="25.1" fill="#e3352a"/><circle r="18.9" fill="#000"/><circle r="17.2" fill="#fff"/><circle r="9.5" fill="#000"/></g>
<g transform="translate(808.77 720.20)"><circle r="34.6" fill="#000"/><circle r="33.1" fill="#fff"/><path d="M 26.00 -1.95 L 33.40 -1.95 M 26.00 1.95 L 33.40 1.95 M 24.77 8.15 L 31.60 10.98 M 23.27 11.75 L 30.11 14.58 M 19.76 17.01 L 25.00 22.24 M 17.01 19.76 L 22.24 25.00 M 11.75 23.27 L 14.58 30.11 M 8.15 24.77 L 10.98 31.60 M 1.95 26.00 L 1.95 33.40 M -1.95 26.00 L -1.95 33.40 M -8.15 24.77 L -10.98 31.60 M -11.75 23.27 L -14.58 30.11 M -17.01 19.76 L -22.24 25.00 M -19.76 17.01 L -25.00 22.24 M -23.27 11.75 L -30.11 14.58 M -24.77 8.15 L -31.60 10.98 M -26.00 1.95 L -33.40 1.95 M -26.00 -1.95 L -33.40 -1.95 M -24.77 -8.15 L -31.60 -10.98 M -23.27 -11.75 L -30.11 -14.58 M -19.76 -17.01 L -25.00 -22.24 M -17.01 -19.76 L -22.24 -25.00 M -11.75 -23.27 L -14.58 -30.11 M -8.15 -24.77 L -10.98 -31.60 M -1.95 -26.00 L -1.95 -33.40 M 1.95 -26.00 L 1.95 -33.40 M 8.15 -24.77 L 10.98 -31.60 M 11.75 -23.27 L 14.58 -30.11 M 17.01 -19.76 L 22.24 -25.00 M 19.76 -17.01 L 25.00 -22.24 M 23.27 -11.75 L 30.11 -14.58 M 24.77 -8.15 L 31.60 -10.98" stroke="#000" stroke-width="1.3"/><circle r="25.85" fill="none" stroke="#000" stroke-width="1.6"/><circle r="25.1" fill="#fff"/><circle r="18.9" fill="#000"/><circle r="17.2" fill="#fff"/><circle r="9.5" fill="#000"/></g>
<rect x="881.51" y="675.40" width="17" height="90" rx="8.5" ry="9" fill="#fff"/>
<rect x="962.71" y="675.40" width="17" height="90" rx="8.5" ry="9" fill="#fff"/>
<circle cx="890.01" cy="664.50" r="8.6" fill="#fff"/>
<rect x="884.21" y="663.20" width="11.6" height="2.6" fill="#000"/>
<rect x="888.71" y="658.70" width="2.6" height="11.6" fill="#000"/>
<circle cx="971.21" cy="664.50" r="8.6" fill="#fff"/>
<rect x="965.41" y="663.20" width="11.6" height="2.6" fill="#000"/>
<rect x="920.01" y="718.10" width="21.00" height="4.2" fill="#fff"/>
<rect x="917.20" y="758.20" width="25.4" height="146.80" fill="#fff"/>
<path d="M 894.29 729.93 A 37.60 37.60 0 0 0 966.93 729.93" fill="none" stroke="#fff" stroke-width="13.5"/>
<path d="M 894.29 729.93 A 37.60 37.60 0 0 0 966.93 729.93" fill="none" stroke="#000" stroke-width="8.6"/>
<path d="M 894.29 729.93 A 37.60 37.60 0 0 0 930.61 757.80" fill="none" stroke="#fff" stroke-width="4.0"/>
<rect x="923.55" y="764.40" width="12.7" height="141.60" fill="#000"/>
<g transform="translate(890.01 720.20)"><circle r="34.6" fill="#000"/><circle r="33.1" fill="#e3352a"/><path d="M 26.00 -1.95 L 33.40 -1.95 M 26.00 1.95 L 33.40 1.95 M 24.77 8.15 L 31.60 10.98 M 23.27 11.75 L 30.11 14.58 M 19.76 17.01 L 25.00 22.24 M 17.01 19.76 L 22.24 25.00 M 11.75 23.27 L 14.58 30.11 M 8.15 24.77 L 10.98 31.60 M 1.95 26.00 L 1.95 33.40 M -1.95 26.00 L -1.95 33.40 M -8.15 24.77 L -10.98 31.60 M -11.75 23.27 L -14.58 30.11 M -17.01 19.76 L -22.24 25.00 M -19.76 17.01 L -25.00 22.24 M -23.27 11.75 L -30.11 14.58 M -24.77 8.15 L -31.60 10.98 M -26.00 1.95 L -33.40 1.95 M -26.00 -1.95 L -33.40 -1.95 M -24.77 -8.15 L -31.60 -10.98 M -23.27 -11.75 L -30.11 -14.58 M -19.76 -17.01 L -25.00 -22.24 M -17.01 -19.76 L -22.24 -25.00 M -11.75 -23.27 L -14.58 -30.11 M -8.15 -24.77 L -10.98 -31.60 M -1.95 -26.00 L -1.95 -33.40 M 1.95 -26.00 L 1.95 -33.40 M 8.15 -24.77 L 10.98 -31.60 M 11.75 -23.27 L 14.58 -30.11 M 17.01 -19.76 L 22.24 -25.00 M 19.76 -17.01 L 25.00 -22.24 M 23.27 -11.75 L 30.11 -14.58 M 24.77 -8.15 L 31.60 -10.98" stroke="#000" stroke-width="1.3"/><circle r="25.85" fill="none" stroke="#000" stroke-width="1.6"/><circle r="25.1" fill="#e3352a"/><circle r="18.9" fill="#000"/><circle r="17.2" fill="#fff"/><circle r="9.5" fill="#000"/></g>
<g transform="translate(971.21 720.20)"><circle r="34.6" fill="#000"/><circle r="33.1" fill="#fff"/><path d="M 26.00 -1.95 L 33.40 -1.95 M 26.00 1.95 L 33.40 1.95 M 24.77 8.15 L 31.60 10.98 M 23.27 11.75 L 30.11 14.58 M 19.76 17.01 L 25.00 22.24 M 17.01 19.76 L 22.24 25.00 M 11.75 23.27 L 14.58 30.11 M 8.15 24.77 L 10.98 31.60 M 1.95 26.00 L 1.95 33.40 M -1.95 26.00 L -1.95 33.40 M -8.15 24.77 L -10.98 31.60 M -11.75 23.27 L -14.58 30.11 M -17.01 19.76 L -22.24 25.00 M -19.76 17.01 L -25.00 22.24 M -23.27 11.75 L -30.11 14.58 M -24.77 8.15 L -31.60 10.98 M -26.00 1.95 L -33.40 1.95 M -26.00 -1.95 L -33.40 -1.95 M -24.77 -8.15 L -31.60 -10.98 M -23.27 -11.75 L -30.11 -14.58 M -19.76 -17.01 L -25.00 -22.24 M -17.01 -19.76 L -22.24 -25.00 M -11.75 -23.27 L -14.58 -30.11 M -8.15 -24.77 L -10.98 -31.60 M -1.95 -26.00 L -1.95 -33.40 M 1.95 -26.00 L 1.95 -33.40 M 8.15 -24.77 L 10.98 -31.60 M 11.75 -23.27 L 14.58 -30.11 M 17.01 -19.76 L 22.24 -25.00 M 19.76 -17.01 L 25.00 -22.24 M 23.27 -11.75 L 30.11 -14.58 M 24.77 -8.15 L 31.60 -10.98" stroke="#000" stroke-width="1.3"/><circle r="25.85" fill="none" stroke="#000" stroke-width="1.6"/><circle r="25.1" fill="#fff"/><circle r="18.9" fill="#000"/><circle r="17.2" fill="#fff"/><circle r="9.5" fill="#000"/></g>
<rect x="1043.95" y="675.40" width="17" height="90" rx="8.5" ry="9" fill="#000"/>
<rect x="1125.15" y="675.40" width="17" height="90" rx="8.5" ry="9" fill="#000"/>
<circle cx="1052.45" cy="664.50" r="8.6" fill="#000"/>
<rect x="1046.65" y="663.20" width="11.6" height="2.6" fill="#fff"/>
<rect x="1051.15" y="658.70" width="2.6" height="11.6" fill="#fff"/>
<circle cx="1133.65" cy="664.50" r="8.6" fill="#000"/>
<rect x="1127.85" y="663.20" width="11.6" height="2.6" fill="#fff"/>
<rect x="1082.45" y="712.20" width="21.00" height="16.4" fill="#000"/>
<rect x="1082.45" y="717.60" width="21.00" height="5.6" fill="#fff"/>
<rect x="1078.40" y="758.20" width="25.4" height="146.80" fill="#fff"/>
<path d="M 1055.77 730.19 A 38.60 38.60 0 0 0 1130.33 730.19" fill="none" stroke="#fff" stroke-width="15"/>
<path d="M 1055.77 730.19 A 38.60 38.60 0 0 0 1130.33 730.19" fill="none" stroke="#000" stroke-width="9.6"/>
<path d="M 1055.77 730.19 A 38.60 38.60 0 0 0 1093.05 758.80" fill="none" stroke="#fff" stroke-width="4.7"/>
<rect x="1084.75" y="764.40" width="12.7" height="141.60" fill="#000"/>
<g transform="translate(1052.45 720.20)"><circle r="34.6" fill="#000"/><circle r="33.1" fill="#e3352a"/><path d="M 26.00 -1.95 L 33.40 -1.95 M 26.00 1.95 L 33.40 1.95 M 24.77 8.15 L 31.60 10.98 M 23.27 11.75 L 30.11 14.58 M 19.76 17.01 L 25.00 22.24 M 17.01 19.76 L 22.24 25.00 M 11.75 23.27 L 14.58 30.11 M 8.15 24.77 L 10.98 31.60 M 1.95 26.00 L 1.95 33.40 M -1.95 26.00 L -1.95 33.40 M -8.15 24.77 L -10.98 31.60 M -11.75 23.27 L -14.58 30.11 M -17.01 19.76 L -22.24 25.00 M -19.76 17.01 L -25.00 22.24 M -23.27 11.75 L -30.11 14.58 M -24.77 8.15 L -31.60 10.98 M -26.00 1.95 L -33.40 1.95 M -26.00 -1.95 L -33.40 -1.95 M -24.77 -8.15 L -31.60 -10.98 M -23.27 -11.75 L -30.11 -14.58 M -19.76 -17.01 L -25.00 -22.24 M -17.01 -19.76 L -22.24 -25.00 M -11.75 -23.27 L -14.58 -30.11 M -8.15 -24.77 L -10.98 -31.60 M -1.95 -26.00 L -1.95 -33.40 M 1.95 -26.00 L 1.95 -33.40 M 8.15 -24.77 L 10.98 -31.60 M 11.75 -23.27 L 14.58 -30.11 M 17.01 -19.76 L 22.24 -25.00 M 19.76 -17.01 L 25.00 -22.24 M 23.27 -11.75 L 30.11 -14.58 M 24.77 -8.15 L 31.60 -10.98" stroke="#000" stroke-width="1.3"/><circle r="25.85" fill="none" stroke="#000" stroke-width="1.6"/><circle r="25.1" fill="#e3352a"/><circle r="18.9" fill="#000"/><circle r="17.2" fill="#fff"/><circle r="9.5" fill="#000"/></g>
<g transform="translate(1133.65 720.20)"><circle r="34.6" fill="#000"/><circle r="33.1" fill="#fff"/><path d="M 26.00 -1.95 L 33.40 -1.95 M 26.00 1.95 L 33.40 1.95 M 24.77 8.15 L 31.60 10.98 M 23.27 11.75 L 30.11 14.58 M 19.76 17.01 L 25.00 22.24 M 17.01 19.76 L 22.24 25.00 M 11.75 23.27 L 14.58 30.11 M 8.15 24.77 L 10.98 31.60 M 1.95 26.00 L 1.95 33.40 M -1.95 26.00 L -1.95 33.40 M -8.15 24.77 L -10.98 31.60 M -11.75 23.27 L -14.58 30.11 M -17.01 19.76 L -22.24 25.00 M -19.76 17.01 L -25.00 22.24 M -23.27 11.75 L -30.11 14.58 M -24.77 8.15 L -31.60 10.98 M -26.00 1.95 L -33.40 1.95 M -26.00 -1.95 L -33.40 -1.95 M -24.77 -8.15 L -31.60 -10.98 M -23.27 -11.75 L -30.11 -14.58 M -19.76 -17.01 L -25.00 -22.24 M -17.01 -19.76 L -22.24 -25.00 M -11.75 -23.27 L -14.58 -30.11 M -8.15 -24.77 L -10.98 -31.60 M -1.95 -26.00 L -1.95 -33.40 M 1.95 -26.00 L 1.95 -33.40 M 8.15 -24.77 L 10.98 -31.60 M 11.75 -23.27 L 14.58 -30.11 M 17.01 -19.76 L 22.24 -25.00 M 19.76 -17.01 L 25.00 -22.24 M 23.27 -11.75 L 30.11 -14.58 M 24.77 -8.15 L 31.60 -10.98" stroke="#000" stroke-width="1.3"/><circle r="25.85" fill="none" stroke="#000" stroke-width="1.6"/><circle r="25.1" fill="#fff"/><circle r="18.9" fill="#000"/><circle r="17.2" fill="#fff"/><circle r="9.5" fill="#000"/></g>
<rect x="1206.39" y="675.40" width="17" height="90" rx="8.5" ry="9" fill="#000"/>
<rect x="1287.59" y="675.40" width="17" height="90" rx="8.5" ry="9" fill="#000"/>
<circle cx="1214.89" cy="664.50" r="8.6" fill="#000"/>
<rect x="1209.09" y="663.20" width="11.6" height="2.6" fill="#fff"/>
<rect x="1213.59" y="658.70" width="2.6" height="11.6" fill="#fff"/>
<circle cx="1296.09" cy="664.50" r="8.6" fill="#000"/>
<rect x="1290.29" y="663.20" width="11.6" height="2.6" fill="#fff"/>
<rect x="1244.89" y="712.20" width="21.00" height="16.4" fill="#000"/>
<rect x="1244.89" y="717.60" width="21.00" height="5.6" fill="#fff"/>
<rect x="1239.80" y="758.20" width="25.4" height="146.80" fill="#fff"/>
<path d="M 1218.21 730.19 A 38.60 38.60 0 0 0 1292.77 730.19" fill="none" stroke="#fff" stroke-width="15"/>
<path d="M 1218.21 730.19 A 38.60 38.60 0 0 0 1292.77 730.19" fill="none" stroke="#000" stroke-width="9.6"/>
<path d="M 1218.21 730.19 A 38.60 38.60 0 0 0 1255.49 758.80" fill="none" stroke="#fff" stroke-width="4.7"/>
<rect x="1246.15" y="764.40" width="12.7" height="141.60" fill="#000"/>
<g transform="translate(1214.89 720.20)"><circle r="34.6" fill="#000"/><circle r="33.1" fill="#e3352a"/><path d="M 26.00 -1.95 L 33.40 -1.95 M 26.00 1.95 L 33.40 1.95 M 24.77 8.15 L 31.60 10.98 M 23.27 11.75 L 30.11 14.58 M 19.76 17.01 L 25.00 22.24 M 17.01 19.76 L 22.24 25.00 M 11.75 23.27 L 14.58 30.11 M 8.15 24.77 L 10.98 31.60 M 1.95 26.00 L 1.95 33.40 M -1.95 26.00 L -1.95 33.40 M -8.15 24.77 L -10.98 31.60 M -11.75 23.27 L -14.58 30.11 M -17.01 19.76 L -22.24 25.00 M -19.76 17.01 L -25.00 22.24 M -23.27 11.75 L -30.11 14.58 M -24.77 8.15 L -31.60 10.98 M -26.00 1.95 L -33.40 1.95 M -26.00 -1.95 L -33.40 -1.95 M -24.77 -8.15 L -31.60 -10.98 M -23.27 -11.75 L -30.11 -14.58 M -19.76 -17.01 L -25.00 -22.24 M -17.01 -19.76 L -22.24 -25.00 M -11.75 -23.27 L -14.58 -30.11 M -8.15 -24.77 L -10.98 -31.60 M -1.95 -26.00 L -1.95 -33.40 M 1.95 -26.00 L 1.95 -33.40 M 8.15 -24.77 L 10.98 -31.60 M 11.75 -23.27 L 14.58 -30.11 M 17.01 -19.76 L 22.24 -25.00 M 19.76 -17.01 L 25.00 -22.24 M 23.27 -11.75 L 30.11 -14.58 M 24.77 -8.15 L 31.60 -10.98" stroke="#000" stroke-width="1.3"/><circle r="25.85" fill="none" stroke="#000" stroke-width="1.6"/><circle r="25.1" fill="#e3352a"/><circle r="18.9" fill="#000"/><circle r="17.2" fill="#fff"/><circle r="9.5" fill="#000"/></g>
<g transform="translate(1296.09 720.20)"><circle r="34.6" fill="#000"/><circle r="33.1" fill="#fff"/><path d="M 26.00 -1.95 L 33.40 -1.95 M 26.00 1.95 L 33.40 1.95 M 24.77 8.15 L 31.60 10.98 M 23.27 11.75 L 30.11 14.58 M 19.76 17.01 L 25.00 22.24 M 17.01 19.76 L 22.24 25.00 M 11.75 23.27 L 14.58 30.11 M 8.15 24.77 L 10.98 31.60 M 1.95 26.00 L 1.95 33.40 M -1.95 26.00 L -1.95 33.40 M -8.15 24.77 L -10.98 31.60 M -11.75 23.27 L -14.58 30.11 M -17.01 19.76 L -22.24 25.00 M -19.76 17.01 L -25.00 22.24 M -23.27 11.75 L -30.11 14.58 M -24.77 8.15 L -31.60 10.98 M -26.00 1.95 L -33.40 1.95 M -26.00 -1.95 L -33.40 -1.95 M -24.77 -8.15 L -31.60 -10.98 M -23.27 -11.75 L -30.11 -14.58 M -19.76 -17.01 L -25.00 -22.24 M -17.01 -19.76 L -22.24 -25.00 M -11.75 -23.27 L -14.58 -30.11 M -8.15 -24.77 L -10.98 -31.60 M -1.95 -26.00 L -1.95 -33.40 M 1.95 -26.00 L 1.95 -33.40 M 8.15 -24.77 L 10.98 -31.60 M 11.75 -23.27 L 14.58 -30.11 M 17.01 -19.76 L 22.24 -25.00 M 19.76 -17.01 L 25.00 -22.24 M 23.27 -11.75 L 30.11 -14.58 M 24.77 -8.15 L 31.60 -10.98" stroke="#000" stroke-width="1.3"/><circle r="25.85" fill="none" stroke="#000" stroke-width="1.6"/><circle r="25.1" fill="#fff"/><circle r="18.9" fill="#000"/><circle r="17.2" fill="#fff"/><circle r="9.5" fill="#000"/></g>
<rect x="1368.83" y="675.40" width="17" height="90" rx="8.5" ry="9" fill="#000"/>
<rect x="1450.03" y="675.40" width="17" height="90" rx="8.5" ry="9" fill="#000"/>
<circle cx="1377.33" cy="664.50" r="8.6" fill="#000"/>
<rect x="1371.53" y="663.20" width="11.6" height="2.6" fill="#fff"/>
<rect x="1376.03" y="658.70" width="2.6" height="11.6" fill="#fff"/>
<circle cx="1458.53" cy="664.50" r="8.6" fill="#000"/>
<rect x="1452.73" y="663.20" width="11.6" height="2.6" fill="#fff"/>
<rect x="1407.33" y="712.20" width="21.00" height="16.4" fill="#000"/>
<rect x="1407.33" y="717.60" width="21.00" height="5.6" fill="#fff"/>
<rect x="1405.90" y="758.20" width="25.4" height="146.80" fill="#fff"/>
<path d="M 1380.65 730.19 A 38.60 38.60 0 0 0 1455.21 730.19" fill="none" stroke="#fff" stroke-width="15"/>
<path d="M 1380.65 730.19 A 38.60 38.60 0 0 0 1455.21 730.19" fill="none" stroke="#000" stroke-width="9.6"/>
<path d="M 1380.65 730.19 A 38.60 38.60 0 0 0 1417.93 758.80" fill="none" stroke="#fff" stroke-width="4.7"/>
<rect x="1412.25" y="764.40" width="12.7" height="141.60" fill="#000"/>
<g transform="translate(1377.33 720.20)"><circle r="34.6" fill="#000"/><circle r="33.1" fill="#e3352a"/><path d="M 26.00 -1.95 L 33.40 -1.95 M 26.00 1.95 L 33.40 1.95 M 24.77 8.15 L 31.60 10.98 M 23.27 11.75 L 30.11 14.58 M 19.76 17.01 L 25.00 22.24 M 17.01 19.76 L 22.24 25.00 M 11.75 23.27 L 14.58 30.11 M 8.15 24.77 L 10.98 31.60 M 1.95 26.00 L 1.95 33.40 M -1.95 26.00 L -1.95 33.40 M -8.15 24.77 L -10.98 31.60 M -11.75 23.27 L -14.58 30.11 M -17.01 19.76 L -22.24 25.00 M -19.76 17.01 L -25.00 22.24 M -23.27 11.75 L -30.11 14.58 M -24.77 8.15 L -31.60 10.98 M -26.00 1.95 L -33.40 1.95 M -26.00 -1.95 L -33.40 -1.95 M -24.77 -8.15 L -31.60 -10.98 M -23.27 -11.75 L -30.11 -14.58 M -19.76 -17.01 L -25.00 -22.24 M -17.01 -19.76 L -22.24 -25.00 M -11.75 -23.27 L -14.58 -30.11 M -8.15 -24.77 L -10.98 -31.60 M -1.95 -26.00 L -1.95 -33.40 M 1.95 -26.00 L 1.95 -33.40 M 8.15 -24.77 L 10.98 -31.60 M 11.75 -23.27 L 14.58 -30.11 M 17.01 -19.76 L 22.24 -25.00 M 19.76 -17.01 L 25.00 -22.24 M 23.27 -11.75 L 30.11 -14.58 M 24.77 -8.15 L 31.60 -10.98" stroke="#000" stroke-width="1.3"/><circle r="25.85" fill="none" stroke="#000" stroke-width="1.6"/><circle r="25.1" fill="#e3352a"/><circle r="18.9" fill="#000"/><circle r="17.2" fill="#fff"/><circle r="9.5" fill="#000"/></g>
<g transform="translate(1458.53 720.20)"><circle r="34.6" fill="#000"/><circle r="33.1" fill="#fff"/><path d="M 26.00 -1.95 L 33.40 -1.95 M 26.00 1.95 L 33.40 1.95 M 24.77 8.15 L 31.60 10.98 M 23.27 11.75 L 30.11 14.58 M 19.76 17.01 L 25.00 22.24 M 17.01 19.76 L 22.24 25.00 M 11.75 23.27 L 14.58 30.11 M 8.15 24.77 L 10.98 31.60 M 1.95 26.00 L 1.95 33.40 M -1.95 26.00 L -1.95 33.40 M -8.15 24.77 L -10.98 31.60 M -11.75 23.27 L -14.58 30.11 M -17.01 19.76 L -22.24 25.00 M -19.76 17.01 L -25.00 22.24 M -23.27 11.75 L -30.11 14.58 M -24.77 8.15 L -31.60 10.98 M -26.00 1.95 L -33.40 1.95 M -26.00 -1.95 L -33.40 -1.95 M -24.77 -8.15 L -31.60 -10.98 M -23.27 -11.75 L -30.11 -14.58 M -19.76 -17.01 L -25.00 -22.24 M -17.01 -19.76 L -22.24 -25.00 M -11.75 -23.27 L -14.58 -30.11 M -8.15 -24.77 L -10.98 -31.60 M -1.95 -26.00 L -1.95 -33.40 M 1.95 -26.00 L 1.95 -33.40 M 8.15 -24.77 L 10.98 -31.60 M 11.75 -23.27 L 14.58 -30.11 M 17.01 -19.76 L 22.24 -25.00 M 19.76 -17.01 L 25.00 -22.24 M 23.27 -11.75 L 30.11 -14.58 M 24.77 -8.15 L 31.60 -10.98" stroke="#000" stroke-width="1.3"/><circle r="25.85" fill="none" stroke="#000" stroke-width="1.6"/><circle r="25.1" fill="#fff"/><circle r="18.9" fill="#000"/><circle r="17.2" fill="#fff"/><circle r="9.5" fill="#000"/></g>
<rect x="1531.27" y="675.40" width="17" height="90" rx="8.5" ry="9" fill="#000"/>
<rect x="1612.47" y="675.40" width="17" height="90" rx="8.5" ry="9" fill="#000"/>
<circle cx="1539.77" cy="664.50" r="8.6" fill="#000"/>
<rect x="1533.97" y="663.20" width="11.6" height="2.6" fill="#fff"/>
<rect x="1538.47" y="658.70" width="2.6" height="11.6" fill="#fff"/>
<circle cx="1620.97" cy="664.50" r="8.6" fill="#000"/>
<rect x="1615.17" y="663.20" width="11.6" height="2.6" fill="#fff"/>
<rect x="1569.77" y="712.20" width="21.00" height="16.4" fill="#000"/>
<rect x="1569.77" y="717.60" width="21.00" height="5.6" fill="#fff"/>
<rect x="1566.70" y="758.20" width="25.4" height="146.80" fill="#fff"/>
<path d="M 1543.09 730.19 A 38.60 38.60 0 0 0 1617.65 730.19" fill="none" stroke="#fff" stroke-width="15"/>
<path d="M 1543.09 730.19 A 38.60 38.60 0 0 0 1617.65 730.19" fill="none" stroke="#000" stroke-width="9.6"/>
<path d="M 1543.09 730.19 A 38.60 38.60 0 0 0 1580.37 758.80" fill="none" stroke="#fff" stroke-width="4.7"/>
<rect x="1573.05" y="764.40" width="12.7" height="141.60" fill="#000"/>
<g transform="translate(1539.77 720.20)"><circle r="34.6" fill="#000"/><circle r="33.1" fill="#e3352a"/><path d="M 26.00 -1.95 L 33.40 -1.95 M 26.00 1.95 L 33.40 1.95 M 24.77 8.15 L 31.60 10.98 M 23.27 11.75 L 30.11 14.58 M 19.76 17.01 L 25.00 22.24 M 17.01 19.76 L 22.24 25.00 M 11.75 23.27 L 14.58 30.11 M 8.15 24.77 L 10.98 31.60 M 1.95 26.00 L 1.95 33.40 M -1.95 26.00 L -1.95 33.40 M -8.15 24.77 L -10.98 31.60 M -11.75 23.27 L -14.58 30.11 M -17.01 19.76 L -22.24 25.00 M -19.76 17.01 L -25.00 22.24 M -23.27 11.75 L -30.11 14.58 M -24.77 8.15 L -31.60 10.98 M -26.00 1.95 L -33.40 1.95 M -26.00 -1.95 L -33.40 -1.95 M -24.77 -8.15 L -31.60 -10.98 M -23.27 -11.75 L -30.11 -14.58 M -19.76 -17.01 L -25.00 -22.24 M -17.01 -19.76 L -22.24 -25.00 M -11.75 -23.27 L -14.58 -30.11 M -8.15 -24.77 L -10.98 -31.60 M -1.95 -26.00 L -1.95 -33.40 M 1.95 -26.00 L 1.95 -33.40 M 8.15 -24.77 L 10.98 -31.60 M 11.75 -23.27 L 14.58 -30.11 M 17.01 -19.76 L 22.24 -25.00 M 19.76 -17.01 L 25.00 -22.24 M 23.27 -11.75 L 30.11 -14.58 M 24.77 -8.15 L 31.60 -10.98" stroke="#000" stroke-width="1.3"/><circle r="25.85" fill="none" stroke="#000" stroke-width="1.6"/><circle r="25.1" fill="#e3352a"/><circle r="18.9" fill="#000"/><circle r="17.2" fill="#fff"/><circle r="9.5" fill="#000"/></g>
<g transform="translate(1620.97 720.20)"><circle r="34.6" fill="#000"/><circle r="33.1" fill="#fff"/><path d="M 26.00 -1.95 L 33.40 -1.95 M 26.00 1.95 L 33.40 1.95 M 24.77 8.15 L 31.60 10.98 M 23.27 11.75 L 30.11 14.58 M 19.76 17.01 L 25.00 22.24 M 17.01 19.76 L 22.24 25.00 M 11.75 23.27 L 14.58 30.11 M 8.15 24.77 L 10.98 31.60 M 1.95 26.00 L 1.95 33.40 M -1.95 26.00 L -1.95 33.40 M -8.15 24.77 L -10.98 31.60 M -11.75 23.27 L -14.58 30.11 M -17.01 19.76 L -22.24 25.00 M -19.76 17.01 L -25.00 22.24 M -23.27 11.75 L -30.11 14.58 M -24.77 8.15 L -31.60 10.98 M -26.00 1.95 L -33.40 1.95 M -26.00 -1.95 L -33.40 -1.95 M -24.77 -8.15 L -31.60 -10.98 M -23.27 -11.75 L -30.11 -14.58 M -19.76 -17.01 L -25.00 -22.24 M -17.01 -19.76 L -22.24 -25.00 M -11.75 -23.27 L -14.58 -30.11 M -8.15 -24.77 L -10.98 -31.60 M -1.95 -26.00 L -1.95 -33.40 M 1.95 -26.00 L 1.95 -33.40 M 8.15 -24.77 L 10.98 -31.60 M 11.75 -23.27 L 14.58 -30.11 M 17.01 -19.76 L 22.24 -25.00 M 19.76 -17.01 L 25.00 -22.24 M 23.27 -11.75 L 30.11 -14.58 M 24.77 -8.15 L 31.60 -10.98" stroke="#000" stroke-width="1.3"/><circle r="25.85" fill="none" stroke="#000" stroke-width="1.6"/><circle r="25.1" fill="#fff"/><circle r="18.9" fill="#000"/><circle r="17.2" fill="#fff"/><circle r="9.5" fill="#000"/></g>
<rect x="1693.71" y="675.40" width="17" height="90" rx="8.5" ry="9" fill="#000"/>
<rect x="1774.91" y="675.40" width="17" height="90" rx="8.5" ry="9" fill="#000"/>
<circle cx="1702.21" cy="664.50" r="8.6" fill="#000"/>
<rect x="1696.41" y="663.20" width="11.6" height="2.6" fill="#fff"/>
<rect x="1700.91" y="658.70" width="2.6" height="11.6" fill="#fff"/>
<circle cx="1783.41" cy="664.50" r="8.6" fill="#000"/>
<rect x="1777.61" y="663.20" width="11.6" height="2.6" fill="#fff"/>
<rect x="1732.21" y="712.20" width="21.00" height="16.4" fill="#000"/>
<rect x="1732.21" y="717.60" width="21.00" height="5.6" fill="#fff"/>
<rect x="1728.20" y="758.20" width="25.4" height="146.80" fill="#fff"/>
<path d="M 1705.53 730.19 A 38.60 38.60 0 0 0 1780.09 730.19" fill="none" stroke="#fff" stroke-width="15"/>
<path d="M 1705.53 730.19 A 38.60 38.60 0 0 0 1780.09 730.19" fill="none" stroke="#000" stroke-width="9.6"/>
<path d="M 1705.53 730.19 A 38.60 38.60 0 0 0 1742.81 758.80" fill="none" stroke="#fff" stroke-width="4.7"/>
<rect x="1734.55" y="764.40" width="12.7" height="141.60" fill="#000"/>
<g transform="translate(1702.21 720.20)"><circle r="34.6" fill="#000"/><circle r="33.1" fill="#e3352a"/><path d="M 26.00 -1.95 L 33.40 -1.95 M 26.00 1.95 L 33.40 1.95 M 24.77 8.15 L 31.60 10.98 M 23.27 11.75 L 30.11 14.58 M 19.76 17.01 L 25.00 22.24 M 17.01 19.76 L 22.24 25.00 M 11.75 23.27 L 14.58 30.11 M 8.15 24.77 L 10.98 31.60 M 1.95 26.00 L 1.95 33.40 M -1.95 26.00 L -1.95 33.40 M -8.15 24.77 L -10.98 31.60 M -11.75 23.27 L -14.58 30.11 M -17.01 19.76 L -22.24 25.00 M -19.76 17.01 L -25.00 22.24 M -23.27 11.75 L -30.11 14.58 M -24.77 8.15 L -31.60 10.98 M -26.00 1.95 L -33.40 1.95 M -26.00 -1.95 L -33.40 -1.95 M -24.77 -8.15 L -31.60 -10.98 M -23.27 -11.75 L -30.11 -14.58 M -19.76 -17.01 L -25.00 -22.24 M -17.01 -19.76 L -22.24 -25.00 M -11.75 -23.27 L -14.58 -30.11 M -8.15 -24.77 L -10.98 -31.60 M -1.95 -26.00 L -1.95 -33.40 M 1.95 -26.00 L 1.95 -33.40 M 8.15 -24.77 L 10.98 -31.60 M 11.75 -23.27 L 14.58 -30.11 M 17.01 -19.76 L 22.24 -25.00 M 19.76 -17.01 L 25.00 -22.24 M 23.27 -11.75 L 30.11 -14.58 M 24.77 -8.15 L 31.60 -10.98" stroke="#000" stroke-width="1.3"/><circle r="25.85" fill="none" stroke="#000" stroke-width="1.6"/><circle r="25.1" fill="#e3352a"/><circle r="18.9" fill="#000"/><circle r="17.2" fill="#fff"/><circle r="9.5" fill="#000"/></g>
<g transform="translate(1783.41 720.20)"><circle r="34.6" fill="#000"/><circle r="33.1" fill="#fff"/><path d="M 26.00 -1.95 L 33.40 -1.95 M 26.00 1.95 L 33.40 1.95 M 24.77 8.15 L 31.60 10.98 M 23.27 11.75 L 30.11 14.58 M 19.76 17.01 L 25.00 22.24 M 17.01 19.76 L 22.24 25.00 M 11.75 23.27 L 14.58 30.11 M 8.15 24.77 L 10.98 31.60 M 1.95 26.00 L 1.95 33.40 M -1.95 26.00 L -1.95 33.40 M -8.15 24.77 L -10.98 31.60 M -11.75 23.27 L -14.58 30.11 M -17.01 19.76 L -22.24 25.00 M -19.76 17.01 L -25.00 22.24 M -23.27 11.75 L -30.11 14.58 M -24.77 8.15 L -31.60 10.98 M -26.00 1.95 L -33.40 1.95 M -26.00 -1.95 L -33.40 -1.95 M -24.77 -8.15 L -31.60 -10.98 M -23.27 -11.75 L -30.11 -14.58 M -19.76 -17.01 L -25.00 -22.24 M -17.01 -19.76 L -22.24 -25.00 M -11.75 -23.27 L -14.58 -30.11 M -8.15 -24.77 L -10.98 -31.60 M -1.95 -26.00 L -1.95 -33.40 M 1.95 -26.00 L 1.95 -33.40 M 8.15 -24.77 L 10.98 -31.60 M 11.75 -23.27 L 14.58 -30.11 M 17.01 -19.76 L 22.24 -25.00 M 19.76 -17.01 L 25.00 -22.24 M 23.27 -11.75 L 30.11 -14.58 M 24.77 -8.15 L 31.60 -10.98" stroke="#000" stroke-width="1.3"/><circle r="25.85" fill="none" stroke="#000" stroke-width="1.6"/><circle r="25.1" fill="#fff"/><circle r="18.9" fill="#000"/><circle r="17.2" fill="#fff"/><circle r="9.5" fill="#000"/></g>
<rect x="1856.15" y="675.40" width="17" height="90" rx="8.5" ry="9" fill="#000"/>
<rect x="1937.35" y="675.40" width="17" height="90" rx="8.5" ry="9" fill="#000"/>
<circle cx="1864.65" cy="664.50" r="8.6" fill="#000"/>
<rect x="1858.85" y="663.20" width="11.6" height="2.6" fill="#fff"/>
<rect x="1863.35" y="658.70" width="2.6" height="11.6" fill="#fff"/>
<circle cx="1945.85" cy="664.50" r="8.6" fill="#000"/>
<rect x="1940.05" y="663.20" width="11.6" height="2.6" fill="#fff"/>
<rect x="1894.65" y="712.20" width="21.00" height="16.4" fill="#000"/>
<rect x="1894.65" y="717.60" width="21.00" height="5.6" fill="#fff"/>
<rect x="1891.00" y="758.20" width="25.4" height="146.80" fill="#fff"/>
<path d="M 1867.97 730.19 A 38.60 38.60 0 0 0 1942.53 730.19" fill="none" stroke="#fff" stroke-width="15"/>
<path d="M 1867.97 730.19 A 38.60 38.60 0 0 0 1942.53 730.19" fill="none" stroke="#000" stroke-width="9.6"/>
<path d="M 1867.97 730.19 A 38.60 38.60 0 0 0 1905.25 758.80" fill="none" stroke="#fff" stroke-width="4.7"/>
<rect x="1897.35" y="764.40" width="12.7" height="141.60" fill="#000"/>
<g transform="translate(1864.65 720.20)"><circle r="34.6" fill="#000"/><circle r="33.1" fill="#e3352a"/><path d="M 26.00 -1.95 L 33.40 -1.95 M 26.00 1.95 L 33.40 1.95 M 24.77 8.15 L 31.60 10.98 M 23.27 11.75 L 30.11 14.58 M 19.76 17.01 L 25.00 22.24 M 17.01 19.76 L 22.24 25.00 M 11.75 23.27 L 14.58 30.11 M 8.15 24.77 L 10.98 31.60 M 1.95 26.00 L 1.95 33.40 M -1.95 26.00 L -1.95 33.40 M -8.15 24.77 L -10.98 31.60 M -11.75 23.27 L -14.58 30.11 M -17.01 19.76 L -22.24 25.00 M -19.76 17.01 L -25.00 22.24 M -23.27 11.75 L -30.11 14.58 M -24.77 8.15 L -31.60 10.98 M -26.00 1.95 L -33.40 1.95 M -26.00 -1.95 L -33.40 -1.95 M -24.77 -8.15 L -31.60 -10.98 M -23.27 -11.75 L -30.11 -14.58 M -19.76 -17.01 L -25.00 -22.24 M -17.01 -19.76 L -22.24 -25.00 M -11.75 -23.27 L -14.58 -30.11 M -8.15 -24.77 L -10.98 -31.60 M -1.95 -26.00 L -1.95 -33.40 M 1.95 -26.00 L 1.95 -33.40 M 8.15 -24.77 L 10.98 -31.60 M 11.75 -23.27 L 14.58 -30.11 M 17.01 -19.76 L 22.24 -25.00 M 19.76 -17.01 L 25.00 -22.24 M 23.27 -11.75 L 30.11 -14.58 M 24.77 -8.15 L 31.60 -10.98" stroke="#000" stroke-width="1.3"/><circle r="25.85" fill="none" stroke="#000" stroke-width="1.6"/><circle r="25.1" fill="#e3352a"/><circle r="18.9" fill="#000"/><circle r="17.2" fill="#fff"/><circle r="9.5" fill="#000"/></g>
<g transform="translate(1945.85 720.20)"><circle r="34.6" fill="#000"/><circle r="33.1" fill="#fff"/><path d="M 26.00 -1.95 L 33.40 -1.95 M 26.00 1.95 L 33.40 1.95 M 24.77 8.15 L 31.60 10.98 M 23.27 11.75 L 30.11 14.58 M 19.76 17.01 L 25.00 22.24 M 17.01 19.76 L 22.24 25.00 M 11.75 23.27 L 14.58 30.11 M 8.15 24.77 L 10.98 31.60 M 1.95 26.00 L 1.95 33.40 M -1.95 26.00 L -1.95 33.40 M -8.15 24.77 L -10.98 31.60 M -11.75 23.27 L -14.58 30.11 M -17.01 19.76 L -22.24 25.00 M -19.76 17.01 L -25.00 22.24 M -23.27 11.75 L -30.11 14.58 M -24.77 8.15 L -31.60 10.98 M -26.00 1.95 L -33.40 1.95 M -26.00 -1.95 L -33.40 -1.95 M -24.77 -8.15 L -31.60 -10.98 M -23.27 -11.75 L -30.11 -14.58 M -19.76 -17.01 L -25.00 -22.24 M -17.01 -19.76 L -22.24 -25.00 M -11.75 -23.27 L -14.58 -30.11 M -8.15 -24.77 L -10.98 -31.60 M -1.95 -26.00 L -1.95 -33.40 M 1.95 -26.00 L 1.95 -33.40 M 8.15 -24.77 L 10.98 -31.60 M 11.75 -23.27 L 14.58 -30.11 M 17.01 -19.76 L 22.24 -25.00 M 19.76 -17.01 L 25.00 -22.24 M 23.27 -11.75 L 30.11 -14.58 M 24.77 -8.15 L 31.60 -10.98" stroke="#000" stroke-width="1.3"/><circle r="25.85" fill="none" stroke="#000" stroke-width="1.6"/><circle r="25.1" fill="#fff"/><circle r="18.9" fill="#000"/><circle r="17.2" fill="#fff"/><circle r="9.5" fill="#000"/></g>
<text x="1136.76" y="776.00" font-size="12.79" textLength="75.13" lengthAdjust="spacingAndGlyphs" font-weight="bold" fill="#000" stroke="#000" stroke-width="0.45">ASSIGNABLE</text>
<text x="1461.81" y="776.00" font-size="12.79" textLength="75.13" lengthAdjust="spacingAndGlyphs" font-weight="bold" fill="#000" stroke="#000" stroke-width="0.45">ASSIGNABLE</text>
<text x="1786.81" y="776.00" font-size="12.79" textLength="75.13" lengthAdjust="spacingAndGlyphs" font-weight="bold" fill="#000" stroke="#000" stroke-width="0.45">ASSIGNABLE</text>
<path d="M 1052.70 472.5 L 1214.80 472.5 L 1214.80 494.3 L 1061.20 494.3 L 1052.70 485.8 Z" fill="#a1285f"/>
<text x="1089.22" y="489.80" font-size="18.46" textLength="69.86" lengthAdjust="spacingAndGlyphs" font-weight="bold" fill="#fff" stroke="#fff" stroke-width="0.45">HEIGHT3</text>
<rect x="1165.50" y="475.60" width="14.50" height="15.60" rx="3" fill="#fff"/>
<text x="1167.45" y="488.70" font-size="16.86" textLength="10.23" lengthAdjust="spacingAndGlyphs" font-weight="bold" fill="#a1285f" stroke="#a1285f" stroke-width="0.45">R</text>
<rect x="1214.80" y="472.5" width="162.80" height="21.8" fill="#e292c6"/>
<text x="1255.72" y="489.80" font-size="18.46" textLength="69.86" lengthAdjust="spacingAndGlyphs" font-weight="bold" fill="#000" stroke="#000" stroke-width="0.45">HEIGHT3</text>
<rect x="1331.60" y="475.60" width="14.90" height="15.60" rx="3" fill="#000"/>
<text x="1333.38" y="488.70" font-size="16.86" textLength="11.00" lengthAdjust="spacingAndGlyphs" font-weight="bold" fill="#e292c6" stroke="#e292c6" stroke-width="0.45">L</text>
<rect x="1377.60" y="472.5" width="162.40" height="21.8" fill="#c8c0ab"/>
<text x="1384.56" y="489.80" font-size="18.46" textLength="121.88" lengthAdjust="spacingAndGlyphs" font-weight="bold" fill="#fff" stroke="#fff" stroke-width="0.45">HEIGHT4/FRONT WIDE</text>
<rect x="1512.40" y="475.60" width="15.30" height="15.60" rx="3" fill="#fff"/>
<text x="1514.46" y="488.70" font-size="16.86" textLength="10.79" lengthAdjust="spacingAndGlyphs" font-weight="bold" fill="#c8c0ab" stroke="#c8c0ab" stroke-width="0.45">R</text>
<rect x="1540.00" y="472.5" width="161.50" height="21.8" fill="#e6ead6"/>
<text x="1549.76" y="489.80" font-size="18.46" textLength="120.67" lengthAdjust="spacingAndGlyphs" font-weight="bold" fill="#bebebe" stroke="#bebebe" stroke-width="0.45">HEIGHT4/FRONT WIDE</text>
<rect x="1676.80" y="475.60" width="14.50" height="15.60" rx="3" fill="#bebebe"/>
<text x="1678.53" y="488.70" font-size="16.86" textLength="10.70" lengthAdjust="spacingAndGlyphs" font-weight="bold" fill="#e6ead6" stroke="#e6ead6" stroke-width="0.45">L</text>
<rect x="1212.8" y="508.8" width="5.8" height="97" fill="#000"/>
<rect x="1374.6" y="494" width="5.8" height="126.7" fill="#000"/>
<rect x="1537.4" y="509.4" width="5.6" height="98.6" fill="#bebebe"/>
<text x="1177.01" y="619.50" font-size="12.06" textLength="75.44" lengthAdjust="spacingAndGlyphs" font-weight="bold" fill="#000" stroke="#000" stroke-width="0.45">ASSIGNABLE</text>
<text x="1501.92" y="619.50" font-size="11.77" textLength="74.53" lengthAdjust="spacingAndGlyphs" font-weight="bold" fill="#bebebe" stroke="#bebebe" stroke-width="0.45">ASSIGNABLE</text>
<rect x="1084.05" y="519.60" width="17" height="90" rx="8.5" ry="9" fill="#000"/>
<rect x="1165.25" y="519.60" width="17" height="90" rx="8.5" ry="9" fill="#000"/>
<circle cx="1092.55" cy="508.30" r="8.6" fill="#000"/>
<rect x="1086.75" y="507.00" width="11.6" height="2.6" fill="#fff"/>
<rect x="1091.25" y="502.50" width="2.6" height="11.6" fill="#fff"/>
<circle cx="1173.75" cy="508.30" r="8.6" fill="#000"/>
<rect x="1167.95" y="507.00" width="11.6" height="2.6" fill="#fff"/>
<rect x="1122.55" y="556.20" width="21.20" height="16.4" fill="#000"/>
<rect x="1122.55" y="560.60" width="21.20" height="7.6" fill="#fff"/>
<path d="M 1095.87 554.41 A 38.60 38.60 0 0 1 1170.43 554.41" fill="none" stroke="#fff" stroke-width="15"/>
<path d="M 1095.87 554.41 A 38.60 38.60 0 0 1 1170.43 554.41" fill="none" stroke="#000" stroke-width="9.6"/>
<path d="M 1095.87 554.41 A 38.60 38.60 0 0 1 1133.15 525.80" fill="none" stroke="#fff" stroke-width="4.7"/>
<g transform="translate(1092.55 564.40)"><circle r="34.6" fill="#000"/><circle r="33.1" fill="#e3352a"/><path d="M 26.00 -1.95 L 33.40 -1.95 M 26.00 1.95 L 33.40 1.95 M 24.77 8.15 L 31.60 10.98 M 23.27 11.75 L 30.11 14.58 M 19.76 17.01 L 25.00 22.24 M 17.01 19.76 L 22.24 25.00 M 11.75 23.27 L 14.58 30.11 M 8.15 24.77 L 10.98 31.60 M 1.95 26.00 L 1.95 33.40 M -1.95 26.00 L -1.95 33.40 M -8.15 24.77 L -10.98 31.60 M -11.75 23.27 L -14.58 30.11 M -17.01 19.76 L -22.24 25.00 M -19.76 17.01 L -25.00 22.24 M -23.27 11.75 L -30.11 14.58 M -24.77 8.15 L -31.60 10.98 M -26.00 1.95 L -33.40 1.95 M -26.00 -1.95 L -33.40 -1.95 M -24.77 -8.15 L -31.60 -10.98 M -23.27 -11.75 L -30.11 -14.58 M -19.76 -17.01 L -25.00 -22.24 M -17.01 -19.76 L -22.24 -25.00 M -11.75 -23.27 L -14.58 -30.11 M -8.15 -24.77 L -10.98 -31.60 M -1.95 -26.00 L -1.95 -33.40 M 1.95 -26.00 L 1.95 -33.40 M 8.15 -24.77 L 10.98 -31.60 M 11.75 -23.27 L 14.58 -30.11 M 17.01 -19.76 L 22.24 -25.00 M 19.76 -17.01 L 25.00 -22.24 M 23.27 -11.75 L 30.11 -14.58 M 24.77 -8.15 L 31.60 -10.98" stroke="#000" stroke-width="1.3"/><circle r="25.85" fill="none" stroke="#000" stroke-width="1.6"/><circle r="25.1" fill="#e3352a"/><circle r="18.9" fill="#000"/><circle r="17.2" fill="#fff"/><circle r="9.5" fill="#000"/></g>
<g transform="translate(1173.75 564.40)"><circle r="34.6" fill="#000"/><circle r="33.1" fill="#fff"/><path d="M 26.00 -1.95 L 33.40 -1.95 M 26.00 1.95 L 33.40 1.95 M 24.77 8.15 L 31.60 10.98 M 23.27 11.75 L 30.11 14.58 M 19.76 17.01 L 25.00 22.24 M 17.01 19.76 L 22.24 25.00 M 11.75 23.27 L 14.58 30.11 M 8.15 24.77 L 10.98 31.60 M 1.95 26.00 L 1.95 33.40 M -1.95 26.00 L -1.95 33.40 M -8.15 24.77 L -10.98 31.60 M -11.75 23.27 L -14.58 30.11 M -17.01 19.76 L -22.24 25.00 M -19.76 17.01 L -25.00 22.24 M -23.27 11.75 L -30.11 14.58 M -24.77 8.15 L -31.60 10.98 M -26.00 1.95 L -33.40 1.95 M -26.00 -1.95 L -33.40 -1.95 M -24.77 -8.15 L -31.60 -10.98 M -23.27 -11.75 L -30.11 -14.58 M -19.76 -17.01 L -25.00 -22.24 M -17.01 -19.76 L -22.24 -25.00 M -11.75 -23.27 L -14.58 -30.11 M -8.15 -24.77 L -10.98 -31.60 M -1.95 -26.00 L -1.95 -33.40 M 1.95 -26.00 L 1.95 -33.40 M 8.15 -24.77 L 10.98 -31.60 M 11.75 -23.27 L 14.58 -30.11 M 17.01 -19.76 L 22.24 -25.00 M 19.76 -17.01 L 25.00 -22.24 M 23.27 -11.75 L 30.11 -14.58 M 24.77 -8.15 L 31.60 -10.98" stroke="#000" stroke-width="1.3"/><circle r="25.85" fill="none" stroke="#000" stroke-width="1.6"/><circle r="25.1" fill="#fff"/><circle r="18.9" fill="#000"/><circle r="17.2" fill="#fff"/><circle r="9.5" fill="#000"/></g>
<rect x="1246.45" y="519.60" width="17" height="90" rx="8.5" ry="9" fill="#000"/>
<rect x="1327.85" y="519.60" width="17" height="90" rx="8.5" ry="9" fill="#000"/>
<circle cx="1254.95" cy="508.30" r="8.6" fill="#000"/>
<rect x="1249.15" y="507.00" width="11.6" height="2.6" fill="#fff"/>
<rect x="1253.65" y="502.50" width="2.6" height="11.6" fill="#fff"/>
<circle cx="1336.35" cy="508.30" r="8.6" fill="#000"/>
<rect x="1330.55" y="507.00" width="11.6" height="2.6" fill="#fff"/>
<rect x="1284.95" y="556.20" width="21.40" height="16.4" fill="#000"/>
<rect x="1284.95" y="560.60" width="21.40" height="7.6" fill="#fff"/>
<path d="M 1258.37 554.41 A 38.60 38.60 0 0 1 1332.93 554.41" fill="none" stroke="#fff" stroke-width="15"/>
<path d="M 1258.37 554.41 A 38.60 38.60 0 0 1 1332.93 554.41" fill="none" stroke="#000" stroke-width="9.6"/>
<path d="M 1258.37 554.41 A 38.60 38.60 0 0 1 1295.65 525.80" fill="none" stroke="#fff" stroke-width="4.7"/>
<g transform="translate(1254.95 564.40)"><circle r="34.6" fill="#000"/><circle r="33.1" fill="#e3352a"/><path d="M 26.00 -1.95 L 33.40 -1.95 M 26.00 1.95 L 33.40 1.95 M 24.77 8.15 L 31.60 10.98 M 23.27 11.75 L 30.11 14.58 M 19.76 17.01 L 25.00 22.24 M 17.01 19.76 L 22.24 25.00 M 11.75 23.27 L 14.58 30.11 M 8.15 24.77 L 10.98 31.60 M 1.95 26.00 L 1.95 33.40 M -1.95 26.00 L -1.95 33.40 M -8.15 24.77 L -10.98 31.60 M -11.75 23.27 L -14.58 30.11 M -17.01 19.76 L -22.24 25.00 M -19.76 17.01 L -25.00 22.24 M -23.27 11.75 L -30.11 14.58 M -24.77 8.15 L -31.60 10.98 M -26.00 1.95 L -33.40 1.95 M -26.00 -1.95 L -33.40 -1.95 M -24.77 -8.15 L -31.60 -10.98 M -23.27 -11.75 L -30.11 -14.58 M -19.76 -17.01 L -25.00 -22.24 M -17.01 -19.76 L -22.24 -25.00 M -11.75 -23.27 L -14.58 -30.11 M -8.15 -24.77 L -10.98 -31.60 M -1.95 -26.00 L -1.95 -33.40 M 1.95 -26.00 L 1.95 -33.40 M 8.15 -24.77 L 10.98 -31.60 M 11.75 -23.27 L 14.58 -30.11 M 17.01 -19.76 L 22.24 -25.00 M 19.76 -17.01 L 25.00 -22.24 M 23.27 -11.75 L 30.11 -14.58 M 24.77 -8.15 L 31.60 -10.98" stroke="#000" stroke-width="1.3"/><circle r="25.85" fill="none" stroke="#000" stroke-width="1.6"/><circle r="25.1" fill="#e3352a"/><circle r="18.9" fill="#000"/><circle r="17.2" fill="#fff"/><circle r="9.5" fill="#000"/></g>
<g transform="translate(1336.35 564.40)"><circle r="34.6" fill="#000"/><circle r="33.1" fill="#fff"/><path d="M 26.00 -1.95 L 33.40 -1.95 M 26.00 1.95 L 33.40 1.95 M 24.77 8.15 L 31.60 10.98 M 23.27 11.75 L 30.11 14.58 M 19.76 17.01 L 25.00 22.24 M 17.01 19.76 L 22.24 25.00 M 11.75 23.27 L 14.58 30.11 M 8.15 24.77 L 10.98 31.60 M 1.95 26.00 L 1.95 33.40 M -1.95 26.00 L -1.95 33.40 M -8.15 24.77 L -10.98 31.60 M -11.75 23.27 L -14.58 30.11 M -17.01 19.76 L -22.24 25.00 M -19.76 17.01 L -25.00 22.24 M -23.27 11.75 L -30.11 14.58 M -24.77 8.15 L -31.60 10.98 M -26.00 1.95 L -33.40 1.95 M -26.00 -1.95 L -33.40 -1.95 M -24.77 -8.15 L -31.60 -10.98 M -23.27 -11.75 L -30.11 -14.58 M -19.76 -17.01 L -25.00 -22.24 M -17.01 -19.76 L -22.24 -25.00 M -11.75 -23.27 L -14.58 -30.11 M -8.15 -24.77 L -10.98 -31.60 M -1.95 -26.00 L -1.95 -33.40 M 1.95 -26.00 L 1.95 -33.40 M 8.15 -24.77 L 10.98 -31.60 M 11.75 -23.27 L 14.58 -30.11 M 17.01 -19.76 L 22.24 -25.00 M 19.76 -17.01 L 25.00 -22.24 M 23.27 -11.75 L 30.11 -14.58 M 24.77 -8.15 L 31.60 -10.98" stroke="#000" stroke-width="1.3"/><circle r="25.85" fill="none" stroke="#000" stroke-width="1.6"/><circle r="25.1" fill="#fff"/><circle r="18.9" fill="#000"/><circle r="17.2" fill="#fff"/><circle r="9.5" fill="#000"/></g>
<rect x="1409.05" y="519.60" width="17" height="90" rx="8.5" ry="9" fill="#bebebe"/>
<rect x="1490.25" y="519.60" width="17" height="90" rx="8.5" ry="9" fill="#bebebe"/>
<circle cx="1417.55" cy="508.30" r="8.6" fill="#bebebe"/>
<rect x="1411.75" y="507.00" width="11.6" height="2.6" fill="#fff"/>
<rect x="1416.25" y="502.50" width="2.6" height="11.6" fill="#fff"/>
<circle cx="1498.75" cy="508.30" r="8.6" fill="#bebebe"/>
<rect x="1492.95" y="507.00" width="11.6" height="2.6" fill="#fff"/>
<rect x="1447.55" y="556.20" width="21.20" height="16.4" fill="#bebebe"/>
<rect x="1447.55" y="560.60" width="21.20" height="7.6" fill="#fff"/>
<g transform="translate(1417.55 564.40)"><circle r="34.6" fill="#bebebe"/><circle r="33.1" fill="#f5a08d"/><path d="M 26.00 -1.95 L 33.40 -1.95 M 26.00 1.95 L 33.40 1.95 M 24.77 8.15 L 31.60 10.98 M 23.27 11.75 L 30.11 14.58 M 19.76 17.01 L 25.00 22.24 M 17.01 19.76 L 22.24 25.00 M 11.75 23.27 L 14.58 30.11 M 8.15 24.77 L 10.98 31.60 M 1.95 26.00 L 1.95 33.40 M -1.95 26.00 L -1.95 33.40 M -8.15 24.77 L -10.98 31.60 M -11.75 23.27 L -14.58 30.11 M -17.01 19.76 L -22.24 25.00 M -19.76 17.01 L -25.00 22.24 M -23.27 11.75 L -30.11 14.58 M -24.77 8.15 L -31.60 10.98 M -26.00 1.95 L -33.40 1.95 M -26.00 -1.95 L -33.40 -1.95 M -24.77 -8.15 L -31.60 -10.98 M -23.27 -11.75 L -30.11 -14.58 M -19.76 -17.01 L -25.00 -22.24 M -17.01 -19.76 L -22.24 -25.00 M -11.75 -23.27 L -14.58 -30.11 M -8.15 -24.77 L -10.98 -31.60 M -1.95 -26.00 L -1.95 -33.40 M 1.95 -26.00 L 1.95 -33.40 M 8.15 -24.77 L 10.98 -31.60 M 11.75 -23.27 L 14.58 -30.11 M 17.01 -19.76 L 22.24 -25.00 M 19.76 -17.01 L 25.00 -22.24 M 23.27 -11.75 L 30.11 -14.58 M 24.77 -8.15 L 31.60 -10.98" stroke="#bebebe" stroke-width="1.3"/><circle r="25.85" fill="none" stroke="#bebebe" stroke-width="1.6"/><circle r="25.1" fill="#f5a08d"/><circle r="18.9" fill="#bebebe"/><circle r="17.2" fill="#fff"/><circle r="9.5" fill="#bebebe"/></g>
<g transform="translate(1498.75 564.40)"><circle r="34.6" fill="#bebebe"/><circle r="33.1" fill="#fff"/><path d="M 26.00 -1.95 L 33.40 -1.95 M 26.00 1.95 L 33.40 1.95 M 24.77 8.15 L 31.60 10.98 M 23.27 11.75 L 30.11 14.58 M 19.76 17.01 L 25.00 22.24 M 17.01 19.76 L 22.24 25.00 M 11.75 23.27 L 14.58 30.11 M 8.15 24.77 L 10.98 31.60 M 1.95 26.00 L 1.95 33.40 M -1.95 26.00 L -1.95 33.40 M -8.15 24.77 L -10.98 31.60 M -11.75 23.27 L -14.58 30.11 M -17.01 19.76 L -22.24 25.00 M -19.76 17.01 L -25.00 22.24 M -23.27 11.75 L -30.11 14.58 M -24.77 8.15 L -31.60 10.98 M -26.00 1.95 L -33.40 1.95 M -26.00 -1.95 L -33.40 -1.95 M -24.77 -8.15 L -31.60 -10.98 M -23.27 -11.75 L -30.11 -14.58 M -19.76 -17.01 L -25.00 -22.24 M -17.01 -19.76 L -22.24 -25.00 M -11.75 -23.27 L -14.58 -30.11 M -8.15 -24.77 L -10.98 -31.60 M -1.95 -26.00 L -1.95 -33.40 M 1.95 -26.00 L 1.95 -33.40 M 8.15 -24.77 L 10.98 -31.60 M 11.75 -23.27 L 14.58 -30.11 M 17.01 -19.76 L 22.24 -25.00 M 19.76 -17.01 L 25.00 -22.24 M 23.27 -11.75 L 30.11 -14.58 M 24.77 -8.15 L 31.60 -10.98" stroke="#bebebe" stroke-width="1.3"/><circle r="25.85" fill="none" stroke="#bebebe" stroke-width="1.6"/><circle r="25.1" fill="#fff"/><circle r="18.9" fill="#bebebe"/><circle r="17.2" fill="#fff"/><circle r="9.5" fill="#bebebe"/></g>
<rect x="1571.45" y="519.60" width="17" height="90" rx="8.5" ry="9" fill="#bebebe"/>
<rect x="1652.65" y="519.60" width="17" height="90" rx="8.5" ry="9" fill="#bebebe"/>
<circle cx="1579.95" cy="508.30" r="8.6" fill="#bebebe"/>
<rect x="1574.15" y="507.00" width="11.6" height="2.6" fill="#fff"/>
<rect x="1578.65" y="502.50" width="2.6" height="11.6" fill="#fff"/>
<circle cx="1661.15" cy="508.30" r="8.6" fill="#bebebe"/>
<rect x="1655.35" y="507.00" width="11.6" height="2.6" fill="#fff"/>
<rect x="1609.95" y="556.20" width="21.20" height="16.4" fill="#bebebe"/>
<rect x="1609.95" y="560.60" width="21.20" height="7.6" fill="#fff"/>
<g transform="translate(1579.95 564.40)"><circle r="34.6" fill="#bebebe"/><circle r="33.1" fill="#f5a08d"/><path d="M 26.00 -1.95 L 33.40 -1.95 M 26.00 1.95 L 33.40 1.95 M 24.77 8.15 L 31.60 10.98 M 23.27 11.75 L 30.11 14.58 M 19.76 17.01 L 25.00 22.24 M 17.01 19.76 L 22.24 25.00 M 11.75 23.27 L 14.58 30.11 M 8.15 24.77 L 10.98 31.60 M 1.95 26.00 L 1.95 33.40 M -1.95 26.00 L -1.95 33.40 M -8.15 24.77 L -10.98 31.60 M -11.75 23.27 L -14.58 30.11 M -17.01 19.76 L -22.24 25.00 M -19.76 17.01 L -25.00 22.24 M -23.27 11.75 L -30.11 14.58 M -24.77 8.15 L -31.60 10.98 M -26.00 1.95 L -33.40 1.95 M -26.00 -1.95 L -33.40 -1.95 M -24.77 -8.15 L -31.60 -10.98 M -23.27 -11.75 L -30.11 -14.58 M -19.76 -17.01 L -25.00 -22.24 M -17.01 -19.76 L -22.24 -25.00 M -11.75 -23.27 L -14.58 -30.11 M -8.15 -24.77 L -10.98 -31.60 M -1.95 -26.00 L -1.95 -33.40 M 1.95 -26.00 L 1.95 -33.40 M 8.15 -24.77 L 10.98 -31.60 M 11.75 -23.27 L 14.58 -30.11 M 17.01 -19.76 L 22.24 -25.00 M 19.76 -17.01 L 25.00 -22.24 M 23.27 -11.75 L 30.11 -14.58 M 24.77 -8.15 L 31.60 -10.98" stroke="#bebebe" stroke-width="1.3"/><circle r="25.85" fill="none" stroke="#bebebe" stroke-width="1.6"/><circle r="25.1" fill="#f5a08d"/><circle r="18.9" fill="#bebebe"/><circle r="17.2" fill="#fff"/><circle r="9.5" fill="#bebebe"/></g>
<g transform="translate(1661.15 564.40)"><circle r="34.6" fill="#bebebe"/><circle r="33.1" fill="#fff"/><path d="M 26.00 -1.95 L 33.40 -1.95 M 26.00 1.95 L 33.40 1.95 M 24.77 8.15 L 31.60 10.98 M 23.27 11.75 L 30.11 14.58 M 19.76 17.01 L 25.00 22.24 M 17.01 19.76 L 22.24 25.00 M 11.75 23.27 L 14.58 30.11 M 8.15 24.77 L 10.98 31.60 M 1.95 26.00 L 1.95 33.40 M -1.95 26.00 L -1.95 33.40 M -8.15 24.77 L -10.98 31.60 M -11.75 23.27 L -14.58 30.11 M -17.01 19.76 L -22.24 25.00 M -19.76 17.01 L -25.00 22.24 M -23.27 11.75 L -30.11 14.58 M -24.77 8.15 L -31.60 10.98 M -26.00 1.95 L -33.40 1.95 M -26.00 -1.95 L -33.40 -1.95 M -24.77 -8.15 L -31.60 -10.98 M -23.27 -11.75 L -30.11 -14.58 M -19.76 -17.01 L -25.00 -22.24 M -17.01 -19.76 L -22.24 -25.00 M -11.75 -23.27 L -14.58 -30.11 M -8.15 -24.77 L -10.98 -31.60 M -1.95 -26.00 L -1.95 -33.40 M 1.95 -26.00 L 1.95 -33.40 M 8.15 -24.77 L 10.98 -31.60 M 11.75 -23.27 L 14.58 -30.11 M 17.01 -19.76 L 22.24 -25.00 M 19.76 -17.01 L 25.00 -22.24 M 23.27 -11.75 L 30.11 -14.58 M 24.77 -8.15 L 31.60 -10.98" stroke="#bebebe" stroke-width="1.3"/><circle r="25.85" fill="none" stroke="#bebebe" stroke-width="1.6"/><circle r="25.1" fill="#fff"/><circle r="18.9" fill="#bebebe"/><circle r="17.2" fill="#fff"/><circle r="9.5" fill="#bebebe"/></g>
<path d="M 103.7 912 L 103.7 387.3 A 27.6 27.6 0 0 1 131.3 359.7 L 1364 359.7" fill="none" stroke="#fff" stroke-width="25.70" stroke-linejoin="round"/>
<path d="M 103.7 912 L 103.7 387.3 A 27.6 27.6 0 0 1 131.3 359.7 L 1364 359.7" fill="none" stroke="#000" stroke-width="12.70" stroke-linejoin="round"/>
<path d="M 1132.75 525 L 1132.75 460.45 A 26 26 0 0 1 1158.75 434.45 L 1713 434.45 C 1728 434.45 1737.05 430 1737.05 420.4 L 1737.05 406" fill="none" stroke="#fff" stroke-width="25.70" stroke-linejoin="round"/>
<path d="M 1132.75 525 L 1132.75 460.45 A 26 26 0 0 1 1158.75 434.45 L 1713 434.45 C 1728 434.45 1737.05 430 1737.05 420.4 L 1737.05 406" fill="none" stroke="#000" stroke-width="12.70" stroke-linejoin="round"/>
<path d="M 1297.2 525 L 1297.2 483.55 A 25 25 0 0 1 1322.2 458.55 L 1873.4 458.55 A 26 26 0 0 0 1899.4 432.55 L 1899.4 406" fill="none" stroke="#fff" stroke-width="25.70" stroke-linejoin="round"/>
<path d="M 1297.2 525 L 1297.2 483.55 A 25 25 0 0 1 1322.2 458.55 L 1873.4 458.55 A 26 26 0 0 0 1899.4 432.55 L 1899.4 406" fill="none" stroke="#000" stroke-width="12.70" stroke-linejoin="round"/>
<path d="M 1095.87 554.41 A 38.60 38.60 0 0 1 1170.43 554.41" fill="none" stroke="#fff" stroke-width="15"/>
<path d="M 1095.87 554.41 A 38.60 38.60 0 0 1 1170.43 554.41" fill="none" stroke="#000" stroke-width="9.6"/>
<path d="M 1095.87 554.41 A 38.60 38.60 0 0 1 1133.15 525.80" fill="none" stroke="#fff" stroke-width="4.7"/>
<path d="M 1258.37 554.41 A 38.60 38.60 0 0 1 1332.93 554.41" fill="none" stroke="#fff" stroke-width="15"/>
<path d="M 1258.37 554.41 A 38.60 38.60 0 0 1 1332.93 554.41" fill="none" stroke="#000" stroke-width="9.6"/>
<path d="M 1258.37 554.41 A 38.60 38.60 0 0 1 1295.65 525.80" fill="none" stroke="#fff" stroke-width="4.7"/>
<g transform="translate(1092.55 564.40)"><circle r="34.6" fill="#000"/><circle r="33.1" fill="#e3352a"/><path d="M 26.00 -1.95 L 33.40 -1.95 M 26.00 1.95 L 33.40 1.95 M 24.77 8.15 L 31.60 10.98 M 23.27 11.75 L 30.11 14.58 M 19.76 17.01 L 25.00 22.24 M 17.01 19.76 L 22.24 25.00 M 11.75 23.27 L 14.58 30.11 M 8.15 24.77 L 10.98 31.60 M 1.95 26.00 L 1.95 33.40 M -1.95 26.00 L -1.95 33.40 M -8.15 24.77 L -10.98 31.60 M -11.75 23.27 L -14.58 30.11 M -17.01 19.76 L -22.24 25.00 M -19.76 17.01 L -25.00 22.24 M -23.27 11.75 L -30.11 14.58 M -24.77 8.15 L -31.60 10.98 M -26.00 1.95 L -33.40 1.95 M -26.00 -1.95 L -33.40 -1.95 M -24.77 -8.15 L -31.60 -10.98 M -23.27 -11.75 L -30.11 -14.58 M -19.76 -17.01 L -25.00 -22.24 M -17.01 -19.76 L -22.24 -25.00 M -11.75 -23.27 L -14.58 -30.11 M -8.15 -24.77 L -10.98 -31.60 M -1.95 -26.00 L -1.95 -33.40 M 1.95 -26.00 L 1.95 -33.40 M 8.15 -24.77 L 10.98 -31.60 M 11.75 -23.27 L 14.58 -30.11 M 17.01 -19.76 L 22.24 -25.00 M 19.76 -17.01 L 25.00 -22.24 M 23.27 -11.75 L 30.11 -14.58 M 24.77 -8.15 L 31.60 -10.98" stroke="#000" stroke-width="1.3"/><circle r="25.85" fill="none" stroke="#000" stroke-width="1.6"/><circle r="25.1" fill="#e3352a"/><circle r="18.9" fill="#000"/><circle r="17.2" fill="#fff"/><circle r="9.5" fill="#000"/></g>
<g transform="translate(1173.75 564.40)"><circle r="34.6" fill="#000"/><circle r="33.1" fill="#fff"/><path d="M 26.00 -1.95 L 33.40 -1.95 M 26.00 1.95 L 33.40 1.95 M 24.77 8.15 L 31.60 10.98 M 23.27 11.75 L 30.11 14.58 M 19.76 17.01 L 25.00 22.24 M 17.01 19.76 L 22.24 25.00 M 11.75 23.27 L 14.58 30.11 M 8.15 24.77 L 10.98 31.60 M 1.95 26.00 L 1.95 33.40 M -1.95 26.00 L -1.95 33.40 M -8.15 24.77 L -10.98 31.60 M -11.75 23.27 L -14.58 30.11 M -17.01 19.76 L -22.24 25.00 M -19.76 17.01 L -25.00 22.24 M -23.27 11.75 L -30.11 14.58 M -24.77 8.15 L -31.60 10.98 M -26.00 1.95 L -33.40 1.95 M -26.00 -1.95 L -33.40 -1.95 M -24.77 -8.15 L -31.60 -10.98 M -23.27 -11.75 L -30.11 -14.58 M -19.76 -17.01 L -25.00 -22.24 M -17.01 -19.76 L -22.24 -25.00 M -11.75 -23.27 L -14.58 -30.11 M -8.15 -24.77 L -10.98 -31.60 M -1.95 -26.00 L -1.95 -33.40 M 1.95 -26.00 L 1.95 -33.40 M 8.15 -24.77 L 10.98 -31.60 M 11.75 -23.27 L 14.58 -30.11 M 17.01 -19.76 L 22.24 -25.00 M 19.76 -17.01 L 25.00 -22.24 M 23.27 -11.75 L 30.11 -14.58 M 24.77 -8.15 L 31.60 -10.98" stroke="#000" stroke-width="1.3"/><circle r="25.85" fill="none" stroke="#000" stroke-width="1.6"/><circle r="25.1" fill="#fff"/><circle r="18.9" fill="#000"/><circle r="17.2" fill="#fff"/><circle r="9.5" fill="#000"/></g>
<g transform="translate(1254.95 564.40)"><circle r="34.6" fill="#000"/><circle r="33.1" fill="#e3352a"/><path d="M 26.00 -1.95 L 33.40 -1.95 M 26.00 1.95 L 33.40 1.95 M 24.77 8.15 L 31.60 10.98 M 23.27 11.75 L 30.11 14.58 M 19.76 17.01 L 25.00 22.24 M 17.01 19.76 L 22.24 25.00 M 11.75 23.27 L 14.58 30.11 M 8.15 24.77 L 10.98 31.60 M 1.95 26.00 L 1.95 33.40 M -1.95 26.00 L -1.95 33.40 M -8.15 24.77 L -10.98 31.60 M -11.75 23.27 L -14.58 30.11 M -17.01 19.76 L -22.24 25.00 M -19.76 17.01 L -25.00 22.24 M -23.27 11.75 L -30.11 14.58 M -24.77 8.15 L -31.60 10.98 M -26.00 1.95 L -33.40 1.95 M -26.00 -1.95 L -33.40 -1.95 M -24.77 -8.15 L -31.60 -10.98 M -23.27 -11.75 L -30.11 -14.58 M -19.76 -17.01 L -25.00 -22.24 M -17.01 -19.76 L -22.24 -25.00 M -11.75 -23.27 L -14.58 -30.11 M -8.15 -24.77 L -10.98 -31.60 M -1.95 -26.00 L -1.95 -33.40 M 1.95 -26.00 L 1.95 -33.40 M 8.15 -24.77 L 10.98 -31.60 M 11.75 -23.27 L 14.58 -30.11 M 17.01 -19.76 L 22.24 -25.00 M 19.76 -17.01 L 25.00 -22.24 M 23.27 -11.75 L 30.11 -14.58 M 24.77 -8.15 L 31.60 -10.98" stroke="#000" stroke-width="1.3"/><circle r="25.85" fill="none" stroke="#000" stroke-width="1.6"/><circle r="25.1" fill="#e3352a"/><circle r="18.9" fill="#000"/><circle r="17.2" fill="#fff"/><circle r="9.5" fill="#000"/></g>
<g transform="translate(1336.35 564.40)"><circle r="34.6" fill="#000"/><circle r="33.1" fill="#fff"/><path d="M 26.00 -1.95 L 33.40 -1.95 M 26.00 1.95 L 33.40 1.95 M 24.77 8.15 L 31.60 10.98 M 23.27 11.75 L 30.11 14.58 M 19.76 17.01 L 25.00 22.24 M 17.01 19.76 L 22.24 25.00 M 11.75 23.27 L 14.58 30.11 M 8.15 24.77 L 10.98 31.60 M 1.95 26.00 L 1.95 33.40 M -1.95 26.00 L -1.95 33.40 M -8.15 24.77 L -10.98 31.60 M -11.75 23.27 L -14.58 30.11 M -17.01 19.76 L -22.24 25.00 M -19.76 17.01 L -25.00 22.24 M -23.27 11.75 L -30.11 14.58 M -24.77 8.15 L -31.60 10.98 M -26.00 1.95 L -33.40 1.95 M -26.00 -1.95 L -33.40 -1.95 M -24.77 -8.15 L -31.60 -10.98 M -23.27 -11.75 L -30.11 -14.58 M -19.76 -17.01 L -25.00 -22.24 M -17.01 -19.76 L -22.24 -25.00 M -11.75 -23.27 L -14.58 -30.11 M -8.15 -24.77 L -10.98 -31.60 M -1.95 -26.00 L -1.95 -33.40 M 1.95 -26.00 L 1.95 -33.40 M 8.15 -24.77 L 10.98 -31.60 M 11.75 -23.27 L 14.58 -30.11 M 17.01 -19.76 L 22.24 -25.00 M 19.76 -17.01 L 25.00 -22.24 M 23.27 -11.75 L 30.11 -14.58 M 24.77 -8.15 L 31.60 -10.98" stroke="#000" stroke-width="1.3"/><circle r="25.85" fill="none" stroke="#000" stroke-width="1.6"/><circle r="25.1" fill="#fff"/><circle r="18.9" fill="#000"/><circle r="17.2" fill="#fff"/><circle r="9.5" fill="#000"/></g>
<path d="M 1362.9 350.8 L 1402.6 343 L 1402.6 376.5 L 1362.9 368.6 Z" fill="#fff" stroke="#fff" stroke-width="9"/>
<rect x="1399" y="332.6" width="69.5" height="54.8" fill="#fff"/>
<rect x="1461" y="337.6" width="17.8" height="44.2" fill="#fff"/>
<path d="M 1473 348.8 L 1491 348.8 A 11 11 0 0 1 1491 370.8 L 1473 370.8 Z" fill="#fff"/>
<rect x="1330" y="353.35" width="36" height="12.7" fill="#000"/>
<path d="M 1364.6 352.4 L 1402.6 345 L 1402.6 374.5 L 1364.6 367 Z" fill="#fff" stroke="#000" stroke-width="3.4" stroke-linejoin="miter"/>
<rect x="1464.9" y="343.2" width="8.4" height="33" fill="#fff" stroke="#000" stroke-width="3.8"/>
<path d="M 1473 355.1 L 1491 355.1 A 4.6 4.6 0 0 1 1491 364.3 L 1473 364.3" fill="#fff" stroke="#000" stroke-width="4.1"/>
<rect x="1404.5" y="338.2" width="58.5" height="43.6" fill="#fff" stroke="#000" stroke-width="3.9"/>
<line x1="1450.3" y1="338" x2="1450.3" y2="382" stroke="#000" stroke-width="1.7"/>
<line x1="1456.2" y1="338" x2="1456.2" y2="382" stroke="#000" stroke-width="2.2"/>
<path d="M 12.6 958.5 L 44.5 911.5 L 160 911.5 L 191.9 958.5" fill="#fff" stroke="#000" stroke-width="4.6" stroke-linejoin="miter"/>
<rect x="11" y="956.5" width="182.5" height="142" fill="#fff" stroke="#000" stroke-width="4.6"/>
<line x1="22" y1="946" x2="181.6" y2="946" stroke="#000" stroke-width="2"/>
<line x1="11" y1="956.3" x2="193.5" y2="956.3" stroke="#000" stroke-width="5.4"/>
<line x1="13" y1="962.2" x2="191" y2="962.2" stroke="#000" stroke-width="2.2"/>
<rect x="14.8" y="962" width="174.2" height="118.8" fill="none" stroke="#000" stroke-width="2"/>
<line x1="11" y1="1081.2" x2="193.5" y2="1081.2" stroke="#000" stroke-width="3.8"/>
<line x1="13" y1="1084.5" x2="191" y2="1084.5" stroke="#000" stroke-width="2"/>
<path d="M 28 1084.5 L 30 1090 L 49 1090 L 50 1084.5" fill="none" stroke="#000" stroke-width="1.6"/>
<path d="M 154 1084.5 L 155 1090 L 174 1090 L 176 1084.5" fill="none" stroke="#000" stroke-width="1.6"/>
<rect x="222.45" y="907.20" width="120.00" height="192.00" fill="#fff" stroke="#000" stroke-width="4.60"/>
<circle cx="282.45" cy="952.10" r="21.8" fill="none" stroke="#000" stroke-width="2.1"/>
<circle cx="282.45" cy="952.10" r="11.5" fill="none" stroke="#000" stroke-width="2.1"/>
<path d="M 265.65 998.90 L 300.45 998.90 Q 314.25 1008.10 323.45 1021.90 L 323.45 1056.70 Q 314.25 1070.50 300.45 1079.70 L 265.65 1079.70 Q 251.85 1070.50 242.65 1056.70 L 242.65 1021.90 Q 251.85 1008.10 265.65 998.90 Z" fill="none" stroke="#000" stroke-width="2.1" stroke-linejoin="round"/>
<circle cx="283.05" cy="1039.30" r="34.6" fill="none" stroke="#000" stroke-width="2.1"/>
<circle cx="283.05" cy="1039.30" r="12.1" fill="none" stroke="#000" stroke-width="2.1"/>
<rect x="384.65" y="907.20" width="120.00" height="192.00" fill="#fff" stroke="#000" stroke-width="4.60"/>
<circle cx="444.65" cy="952.10" r="21.8" fill="none" stroke="#000" stroke-width="2.1"/>
<circle cx="444.65" cy="952.10" r="11.5" fill="none" stroke="#000" stroke-width="2.1"/>
<path d="M 427.85 998.90 L 462.65 998.90 Q 476.45 1008.10 485.65 1021.90 L 485.65 1056.70 Q 476.45 1070.50 462.65 1079.70 L 427.85 1079.70 Q 414.05 1070.50 404.85 1056.70 L 404.85 1021.90 Q 414.05 1008.10 427.85 998.90 Z" fill="none" stroke="#000" stroke-width="2.1" stroke-linejoin="round"/>
<circle cx="445.25" cy="1039.30" r="34.6" fill="none" stroke="#000" stroke-width="2.1"/>
<circle cx="445.25" cy="1039.30" r="12.1" fill="none" stroke="#000" stroke-width="2.1"/>
<rect x="546.75" y="907.20" width="120.00" height="192.00" fill="#fff" stroke="#000" stroke-width="4.60"/>
<circle cx="606.75" cy="952.10" r="21.8" fill="none" stroke="#000" stroke-width="2.1"/>
<circle cx="606.75" cy="952.10" r="11.5" fill="none" stroke="#000" stroke-width="2.1"/>
<path d="M 589.95 998.90 L 624.75 998.90 Q 638.55 1008.10 647.75 1021.90 L 647.75 1056.70 Q 638.55 1070.50 624.75 1079.70 L 589.95 1079.70 Q 576.15 1070.50 566.95 1056.70 L 566.95 1021.90 Q 576.15 1008.10 589.95 998.90 Z" fill="none" stroke="#000" stroke-width="2.1" stroke-linejoin="round"/>
<circle cx="607.35" cy="1039.30" r="34.6" fill="none" stroke="#000" stroke-width="2.1"/>
<circle cx="607.35" cy="1039.30" r="12.1" fill="none" stroke="#000" stroke-width="2.1"/>
<rect x="707.85" y="907.20" width="120.00" height="192.00" fill="#fff" stroke="#000" stroke-width="4.60"/>
<circle cx="767.85" cy="952.10" r="21.8" fill="none" stroke="#000" stroke-width="2.1"/>
<circle cx="767.85" cy="952.10" r="11.5" fill="none" stroke="#000" stroke-width="2.1"/>
<path d="M 751.05 998.90 L 785.85 998.90 Q 799.65 1008.10 808.85 1021.90 L 808.85 1056.70 Q 799.65 1070.50 785.85 1079.70 L 751.05 1079.70 Q 737.25 1070.50 728.05 1056.70 L 728.05 1021.90 Q 737.25 1008.10 751.05 998.90 Z" fill="none" stroke="#000" stroke-width="2.1" stroke-linejoin="round"/>
<circle cx="768.45" cy="1039.30" r="34.6" fill="none" stroke="#000" stroke-width="2.1"/>
<circle cx="768.45" cy="1039.30" r="12.1" fill="none" stroke="#000" stroke-width="2.1"/>
<rect x="869.60" y="907.20" width="120.00" height="192.00" fill="#fff" stroke="#000" stroke-width="4.60"/>
<circle cx="929.60" cy="952.10" r="21.8" fill="none" stroke="#000" stroke-width="2.1"/>
<circle cx="929.60" cy="952.10" r="11.5" fill="none" stroke="#000" stroke-width="2.1"/>
<path d="M 912.80 998.90 L 947.60 998.90 Q 961.40 1008.10 970.60 1021.90 L 970.60 1056.70 Q 961.40 1070.50 947.60 1079.70 L 912.80 1079.70 Q 899.00 1070.50 889.80 1056.70 L 889.80 1021.90 Q 899.00 1008.10 912.80 998.90 Z" fill="none" stroke="#000" stroke-width="2.1" stroke-linejoin="round"/>
<circle cx="930.20" cy="1039.30" r="34.6" fill="none" stroke="#000" stroke-width="2.1"/>
<circle cx="930.20" cy="1039.30" r="12.1" fill="none" stroke="#000" stroke-width="2.1"/>
<rect x="1031.80" y="907.20" width="120.00" height="192.00" fill="#fff" stroke="#000" stroke-width="4.60"/>
<circle cx="1091.80" cy="952.10" r="21.8" fill="none" stroke="#000" stroke-width="2.1"/>
<circle cx="1091.80" cy="952.10" r="11.5" fill="none" stroke="#000" stroke-width="2.1"/>
<path d="M 1075.00 998.90 L 1109.80 998.90 Q 1123.60 1008.10 1132.80 1021.90 L 1132.80 1056.70 Q 1123.60 1070.50 1109.80 1079.70 L 1075.00 1079.70 Q 1061.20 1070.50 1052.00 1056.70 L 1052.00 1021.90 Q 1061.20 1008.10 1075.00 998.90 Z" fill="none" stroke="#000" stroke-width="2.1" stroke-linejoin="round"/>
<circle cx="1092.40" cy="1039.30" r="34.6" fill="none" stroke="#000" stroke-width="2.1"/>
<circle cx="1092.40" cy="1039.30" r="12.1" fill="none" stroke="#000" stroke-width="2.1"/>
<rect x="1193.15" y="907.20" width="120.00" height="192.00" fill="#fff" stroke="#000" stroke-width="4.60"/>
<circle cx="1253.15" cy="952.10" r="21.8" fill="none" stroke="#000" stroke-width="2.1"/>
<circle cx="1253.15" cy="952.10" r="11.5" fill="none" stroke="#000" stroke-width="2.1"/>
<path d="M 1236.35 998.90 L 1271.15 998.90 Q 1284.95 1008.10 1294.15 1021.90 L 1294.15 1056.70 Q 1284.95 1070.50 1271.15 1079.70 L 1236.35 1079.70 Q 1222.55 1070.50 1213.35 1056.70 L 1213.35 1021.90 Q 1222.55 1008.10 1236.35 998.90 Z" fill="none" stroke="#000" stroke-width="2.1" stroke-linejoin="round"/>
<circle cx="1253.75" cy="1039.30" r="34.6" fill="none" stroke="#000" stroke-width="2.1"/>
<circle cx="1253.75" cy="1039.30" r="12.1" fill="none" stroke="#000" stroke-width="2.1"/>
<rect x="1360.10" y="907.20" width="120.00" height="192.00" fill="#fff" stroke="#000" stroke-width="4.60"/>
<circle cx="1420.10" cy="952.10" r="21.8" fill="none" stroke="#000" stroke-width="2.1"/>
<circle cx="1420.10" cy="952.10" r="11.5" fill="none" stroke="#000" stroke-width="2.1"/>
<path d="M 1403.30 998.90 L 1438.10 998.90 Q 1451.90 1008.10 1461.10 1021.90 L 1461.10 1056.70 Q 1451.90 1070.50 1438.10 1079.70 L 1403.30 1079.70 Q 1389.50 1070.50 1380.30 1056.70 L 1380.30 1021.90 Q 1389.50 1008.10 1403.30 998.90 Z" fill="none" stroke="#000" stroke-width="2.1" stroke-linejoin="round"/>
<circle cx="1420.70" cy="1039.30" r="34.6" fill="none" stroke="#000" stroke-width="2.1"/>
<circle cx="1420.70" cy="1039.30" r="12.1" fill="none" stroke="#000" stroke-width="2.1"/>
<rect x="1520.35" y="907.20" width="120.00" height="192.00" fill="#fff" stroke="#000" stroke-width="4.60"/>
<circle cx="1580.35" cy="952.10" r="21.8" fill="none" stroke="#000" stroke-width="2.1"/>
<circle cx="1580.35" cy="952.10" r="11.5" fill="none" stroke="#000" stroke-width="2.1"/>
<path d="M 1563.55 998.90 L 1598.35 998.90 Q 1612.15 1008.10 1621.35 1021.90 L 1621.35 1056.70 Q 1612.15 1070.50 1598.35 1079.70 L 1563.55 1079.70 Q 1549.75 1070.50 1540.55 1056.70 L 1540.55 1021.90 Q 1549.75 1008.10 1563.55 998.90 Z" fill="none" stroke="#000" stroke-width="2.1" stroke-linejoin="round"/>
<circle cx="1580.95" cy="1039.30" r="34.6" fill="none" stroke="#000" stroke-width="2.1"/>
<circle cx="1580.95" cy="1039.30" r="12.1" fill="none" stroke="#000" stroke-width="2.1"/>
<rect x="1682.25" y="907.20" width="120.00" height="192.00" fill="#84d0d0" stroke="#000" stroke-width="4.60"/>
<circle cx="1742.25" cy="952.10" r="21.8" fill="none" stroke="#000" stroke-width="2.1"/>
<circle cx="1742.25" cy="952.10" r="11.5" fill="none" stroke="#000" stroke-width="2.1"/>
<path d="M 1725.45 998.90 L 1760.25 998.90 Q 1774.05 1008.10 1783.25 1021.90 L 1783.25 1056.70 Q 1774.05 1070.50 1760.25 1079.70 L 1725.45 1079.70 Q 1711.65 1070.50 1702.45 1056.70 L 1702.45 1021.90 Q 1711.65 1008.10 1725.45 998.90 Z" fill="none" stroke="#000" stroke-width="2.1" stroke-linejoin="round"/>
<circle cx="1742.85" cy="1039.30" r="34.6" fill="none" stroke="#000" stroke-width="2.1"/>
<circle cx="1742.85" cy="1039.30" r="12.1" fill="none" stroke="#000" stroke-width="2.1"/>
<rect x="1843.50" y="907.20" width="120.00" height="192.00" fill="#84d0d0" stroke="#000" stroke-width="4.60"/>
<circle cx="1903.50" cy="952.10" r="21.8" fill="none" stroke="#000" stroke-width="2.1"/>
<circle cx="1903.50" cy="952.10" r="11.5" fill="none" stroke="#000" stroke-width="2.1"/>
<path d="M 1886.70 998.90 L 1921.50 998.90 Q 1935.30 1008.10 1944.50 1021.90 L 1944.50 1056.70 Q 1935.30 1070.50 1921.50 1079.70 L 1886.70 1079.70 Q 1872.90 1070.50 1863.70 1056.70 L 1863.70 1021.90 Q 1872.90 1008.10 1886.70 998.90 Z" fill="none" stroke="#000" stroke-width="2.1" stroke-linejoin="round"/>
<circle cx="1904.10" cy="1039.30" r="34.6" fill="none" stroke="#000" stroke-width="2.1"/>
<circle cx="1904.10" cy="1039.30" r="12.1" fill="none" stroke="#000" stroke-width="2.1"/>
<rect x="1678.40" y="213.00" width="120.00" height="192.70" fill="#84d0d0" stroke="#000" stroke-width="4.60"/>
<circle cx="1738.40" cy="257.90" r="21.8" fill="none" stroke="#000" stroke-width="2.1"/>
<circle cx="1738.40" cy="257.90" r="11.5" fill="none" stroke="#000" stroke-width="2.1"/>
<path d="M 1721.60 304.70 L 1756.40 304.70 Q 1770.20 313.90 1779.40 327.70 L 1779.40 362.50 Q 1770.20 376.30 1756.40 385.50 L 1721.60 385.50 Q 1707.80 376.30 1698.60 362.50 L 1698.60 327.70 Q 1707.80 313.90 1721.60 304.70 Z" fill="none" stroke="#000" stroke-width="2.1" stroke-linejoin="round"/>
<circle cx="1739.00" cy="345.10" r="34.6" fill="none" stroke="#000" stroke-width="2.1"/>
<circle cx="1739.00" cy="345.10" r="12.1" fill="none" stroke="#000" stroke-width="2.1"/>
<rect x="1839.50" y="213.00" width="120.00" height="192.70" fill="#84d0d0" stroke="#000" stroke-width="4.60"/>
<circle cx="1899.50" cy="257.90" r="21.8" fill="none" stroke="#000" stroke-width="2.1"/>
<circle cx="1899.50" cy="257.90" r="11.5" fill="none" stroke="#000" stroke-width="2.1"/>
<path d="M 1882.70 304.70 L 1917.50 304.70 Q 1931.30 313.90 1940.50 327.70 L 1940.50 362.50 Q 1931.30 376.30 1917.50 385.50 L 1882.70 385.50 Q 1868.90 376.30 1859.70 362.50 L 1859.70 327.70 Q 1868.90 313.90 1882.70 304.70 Z" fill="none" stroke="#000" stroke-width="2.1" stroke-linejoin="round"/>
<circle cx="1900.10" cy="345.10" r="34.6" fill="none" stroke="#000" stroke-width="2.1"/>
<circle cx="1900.10" cy="345.10" r="12.1" fill="none" stroke="#000" stroke-width="2.1"/>
<text x="55.64" y="1163.90" font-size="59.01" textLength="92.61" lengthAdjust="spacingAndGlyphs" font-weight="bold" fill="#000">SW</text>
<text x="247.24" y="1163.90" font-size="59.01" textLength="68.92" lengthAdjust="spacingAndGlyphs" font-weight="bold" fill="#000">FR</text>
<text x="411.78" y="1163.90" font-size="59.01" textLength="64.34" lengthAdjust="spacingAndGlyphs" font-weight="bold" fill="#000">FL</text>
<text x="585.60" y="1163.90" font-size="59.01" textLength="38.66" lengthAdjust="spacingAndGlyphs" font-weight="bold" fill="#000">C</text>
<text x="729.85" y="1163.90" font-size="59.01" textLength="74.96" lengthAdjust="spacingAndGlyphs" font-weight="bold" fill="#000">SR</text>
<text x="894.92" y="1163.90" font-size="59.01" textLength="69.96" lengthAdjust="spacingAndGlyphs" font-weight="bold" fill="#000">SL</text>
<text x="1036.48" y="1169.10" font-size="57.85" textLength="111.40" lengthAdjust="spacingAndGlyphs" font-weight="bold" fill="#000">SBR</text>
<text x="1200.25" y="1169.10" font-size="57.85" textLength="107.40" lengthAdjust="spacingAndGlyphs" font-weight="bold" fill="#000">SBL</text>
<text x="1367.04" y="1169.10" font-size="57.85" textLength="109.45" lengthAdjust="spacingAndGlyphs" font-weight="bold" fill="#000">FHR</text>
<text x="1530.89" y="1169.10" font-size="57.85" textLength="104.76" lengthAdjust="spacingAndGlyphs" font-weight="bold" fill="#000">FHL</text>
<path d="M 1407.80 1196.22 L 1409.77 1186.14 L 1404.83 1186.14 Z M 1409.90 1186.14 A 2.60 2.60 0 1 0 1404.70 1186.14 A 2.60 2.60 0 1 0 1409.90 1186.14 Z M 1406.80 1196.22 L 1404.83 1206.31 L 1409.77 1206.31 Z M 1409.90 1206.31 A 2.60 2.60 0 1 0 1404.70 1206.31 A 2.60 2.60 0 1 0 1409.90 1206.31 Z M 1407.56 1196.65 L 1417.22 1193.15 L 1414.67 1188.91 Z M 1418.54 1191.03 A 2.60 2.60 0 1 0 1413.34 1191.03 A 2.60 2.60 0 1 0 1418.54 1191.03 Z M 1407.56 1195.80 L 1399.93 1188.91 L 1397.38 1193.15 Z M 1401.26 1191.03 A 2.60 2.60 0 1 0 1396.06 1191.03 A 2.60 2.60 0 1 0 1401.26 1191.03 Z M 1407.04 1195.80 L 1397.38 1199.30 L 1399.93 1203.54 Z M 1401.26 1201.42 A 2.60 2.60 0 1 0 1396.06 1201.42 A 2.60 2.60 0 1 0 1401.26 1201.42 Z M 1407.04 1196.65 L 1414.67 1203.54 L 1417.22 1199.30 Z M 1418.54 1201.42 A 2.60 2.60 0 1 0 1413.34 1201.42 A 2.60 2.60 0 1 0 1418.54 1201.42 Z M 1408.40 1196.22 A 1.1 1.1 0 1 0 1406.20 1196.22 A 1.1 1.1 0 1 0 1408.40 1196.22 Z" fill="#000"/>
<text x="1422.63" y="1209.50" font-size="42.88" textLength="26.25" lengthAdjust="spacingAndGlyphs" font-weight="normal" fill="#000" stroke="#000" stroke-width="0.3">2</text>
<path d="M 1561.10 1196.22 L 1563.07 1186.14 L 1558.13 1186.14 Z M 1563.20 1186.14 A 2.60 2.60 0 1 0 1558.00 1186.14 A 2.60 2.60 0 1 0 1563.20 1186.14 Z M 1560.10 1196.22 L 1558.13 1206.31 L 1563.07 1206.31 Z M 1563.20 1206.31 A 2.60 2.60 0 1 0 1558.00 1206.31 A 2.60 2.60 0 1 0 1563.20 1206.31 Z M 1560.86 1196.65 L 1570.52 1193.15 L 1567.97 1188.91 Z M 1571.84 1191.03 A 2.60 2.60 0 1 0 1566.64 1191.03 A 2.60 2.60 0 1 0 1571.84 1191.03 Z M 1560.86 1195.80 L 1553.23 1188.91 L 1550.68 1193.15 Z M 1554.56 1191.03 A 2.60 2.60 0 1 0 1549.36 1191.03 A 2.60 2.60 0 1 0 1554.56 1191.03 Z M 1560.34 1195.80 L 1550.68 1199.30 L 1553.23 1203.54 Z M 1554.56 1201.42 A 2.60 2.60 0 1 0 1549.36 1201.42 A 2.60 2.60 0 1 0 1554.56 1201.42 Z M 1560.34 1196.65 L 1567.97 1203.54 L 1570.52 1199.30 Z M 1571.84 1201.42 A 2.60 2.60 0 1 0 1566.64 1201.42 A 2.60 2.60 0 1 0 1571.84 1201.42 Z M 1561.70 1196.22 A 1.1 1.1 0 1 0 1559.50 1196.22 A 1.1 1.1 0 1 0 1561.70 1196.22 Z" fill="#000"/>
<text x="1575.94" y="1209.50" font-size="42.88" textLength="26.12" lengthAdjust="spacingAndGlyphs" font-weight="normal" fill="#000" stroke="#000" stroke-width="0.3">2</text>
<rect x="1582.10" y="55.30" width="215.50" height="135.40" fill="#84d0d0" stroke="#000" stroke-width="6.00"/>
<text x="1595.92" y="119.10" font-size="58.00" textLength="187.92" lengthAdjust="spacingAndGlyphs" font-weight="bold" fill="#000">ZONE3</text>
<text x="1670.27" y="173.50" font-size="59.74" textLength="38.11" lengthAdjust="spacingAndGlyphs" font-weight="bold" fill="#000">R</text>
<rect x="1840.70" y="55.30" width="215.80" height="135.40" fill="#84d0d0" stroke="#000" stroke-width="6.00"/>
<text x="1854.12" y="119.10" font-size="58.00" textLength="187.71" lengthAdjust="spacingAndGlyphs" font-weight="bold" fill="#000">ZONE3</text>
<text x="1932.75" y="173.50" font-size="59.74" textLength="31.54" lengthAdjust="spacingAndGlyphs" font-weight="bold" fill="#000">L</text>
<rect x="1587.10" y="1229.40" width="215.40" height="135.40" fill="#84d0d0" stroke="#000" stroke-width="6.00"/>
<text x="1601.02" y="1294.00" font-size="57.85" textLength="187.53" lengthAdjust="spacingAndGlyphs" font-weight="bold" fill="#000">ZONE2</text>
<text x="1675.66" y="1347.20" font-size="59.16" textLength="37.09" lengthAdjust="spacingAndGlyphs" font-weight="bold" fill="#000">R</text>
<rect x="1835.00" y="1229.40" width="215.60" height="135.40" fill="#84d0d0" stroke="#000" stroke-width="6.00"/>
<text x="1849.22" y="1294.10" font-size="58.00" textLength="188.04" lengthAdjust="spacingAndGlyphs" font-weight="bold" fill="#000">ZONE2</text>
<text x="1927.05" y="1347.20" font-size="59.16" textLength="31.54" lengthAdjust="spacingAndGlyphs" font-weight="bold" fill="#000">L</text>
<path d="M 1675.05 27.92 L 1677.04 17.77 L 1672.06 17.77 Z M 1677.17 17.77 A 2.62 2.62 0 1 0 1671.93 17.77 A 2.62 2.62 0 1 0 1677.17 17.77 Z M 1674.05 27.92 L 1672.06 38.07 L 1677.04 38.07 Z M 1677.17 38.07 A 2.62 2.62 0 1 0 1671.93 38.07 A 2.62 2.62 0 1 0 1677.17 38.07 Z M 1674.81 28.35 L 1684.53 24.82 L 1681.97 20.56 Z M 1685.87 22.69 A 2.62 2.62 0 1 0 1680.63 22.69 A 2.62 2.62 0 1 0 1685.87 22.69 Z M 1674.81 27.49 L 1667.13 20.56 L 1664.57 24.82 Z M 1668.47 22.69 A 2.62 2.62 0 1 0 1663.23 22.69 A 2.62 2.62 0 1 0 1668.47 22.69 Z M 1674.29 27.49 L 1664.57 31.02 L 1667.13 35.28 Z M 1668.47 33.15 A 2.62 2.62 0 1 0 1663.23 33.15 A 2.62 2.62 0 1 0 1668.47 33.15 Z M 1674.29 28.35 L 1681.97 35.28 L 1684.53 31.02 Z M 1685.87 33.15 A 2.62 2.62 0 1 0 1680.63 33.15 A 2.62 2.62 0 1 0 1685.87 33.15 Z M 1675.65 27.92 A 1.1 1.1 0 1 0 1673.45 27.92 A 1.1 1.1 0 1 0 1675.65 27.92 Z" fill="#000"/>
<path d="M 1706.90 10.10 L 1706.90 39.80 L 1703.00 39.80 L 1703.00 18.71 L 1696.00 18.71 Q 1696.00 16.04 1696.00 16.04 Q 1702.50 15.15 1702.80 10.10 Z" fill="#000"/>
<path d="M 1934.85 27.92 L 1936.84 17.77 L 1931.86 17.77 Z M 1936.97 17.77 A 2.62 2.62 0 1 0 1931.73 17.77 A 2.62 2.62 0 1 0 1936.97 17.77 Z M 1933.85 27.92 L 1931.86 38.07 L 1936.84 38.07 Z M 1936.97 38.07 A 2.62 2.62 0 1 0 1931.73 38.07 A 2.62 2.62 0 1 0 1936.97 38.07 Z M 1934.61 28.35 L 1944.33 24.82 L 1941.77 20.56 Z M 1945.67 22.69 A 2.62 2.62 0 1 0 1940.43 22.69 A 2.62 2.62 0 1 0 1945.67 22.69 Z M 1934.61 27.49 L 1926.93 20.56 L 1924.37 24.82 Z M 1928.27 22.69 A 2.62 2.62 0 1 0 1923.03 22.69 A 2.62 2.62 0 1 0 1928.27 22.69 Z M 1934.09 27.49 L 1924.37 31.02 L 1926.93 35.28 Z M 1928.27 33.15 A 2.62 2.62 0 1 0 1923.03 33.15 A 2.62 2.62 0 1 0 1928.27 33.15 Z M 1934.09 28.35 L 1941.77 35.28 L 1944.33 31.02 Z M 1945.67 33.15 A 2.62 2.62 0 1 0 1940.43 33.15 A 2.62 2.62 0 1 0 1945.67 33.15 Z M 1935.45 27.92 A 1.1 1.1 0 1 0 1933.25 27.92 A 1.1 1.1 0 1 0 1935.45 27.92 Z" fill="#000"/>
<path d="M 1967.60 10.10 L 1967.60 39.80 L 1963.70 39.80 L 1963.70 18.71 L 1956.70 18.71 Q 1956.70 16.04 1956.70 16.04 Q 1963.20 15.15 1963.50 10.10 Z" fill="#000"/>
<path d="M 1674.90 1397.18 L 1676.90 1386.99 L 1671.90 1386.99 Z M 1677.03 1386.99 A 2.63 2.63 0 1 0 1671.77 1386.99 A 2.63 2.63 0 1 0 1677.03 1386.99 Z M 1673.90 1397.18 L 1671.90 1407.37 L 1676.90 1407.37 Z M 1677.03 1407.37 A 2.63 2.63 0 1 0 1671.77 1407.37 A 2.63 2.63 0 1 0 1677.03 1407.37 Z M 1674.66 1397.61 L 1684.42 1394.07 L 1681.85 1389.79 Z M 1685.76 1391.93 A 2.63 2.63 0 1 0 1680.51 1391.93 A 2.63 2.63 0 1 0 1685.76 1391.93 Z M 1674.66 1396.75 L 1666.95 1389.79 L 1664.38 1394.07 Z M 1668.29 1391.93 A 2.63 2.63 0 1 0 1663.04 1391.93 A 2.63 2.63 0 1 0 1668.29 1391.93 Z M 1674.14 1396.75 L 1664.38 1400.29 L 1666.95 1404.57 Z M 1668.29 1402.43 A 2.63 2.63 0 1 0 1663.04 1402.43 A 2.63 2.63 0 1 0 1668.29 1402.43 Z M 1674.14 1397.61 L 1681.85 1404.57 L 1684.42 1400.29 Z M 1685.76 1402.43 A 2.63 2.63 0 1 0 1680.51 1402.43 A 2.63 2.63 0 1 0 1685.76 1402.43 Z M 1675.50 1397.18 A 1.1 1.1 0 1 0 1673.30 1397.18 A 1.1 1.1 0 1 0 1675.50 1397.18 Z" fill="#000"/>
<path d="M 1707.60 1379.30 L 1707.60 1409.10 L 1703.66 1409.10 L 1703.66 1387.94 L 1696.60 1387.94 Q 1696.60 1385.26 1696.60 1385.26 Q 1703.16 1384.37 1703.46 1379.30 Z" fill="#000"/>
<path d="M 1935.00 1397.18 L 1937.00 1386.99 L 1932.00 1386.99 Z M 1937.13 1386.99 A 2.63 2.63 0 1 0 1931.87 1386.99 A 2.63 2.63 0 1 0 1937.13 1386.99 Z M 1934.00 1397.18 L 1932.00 1407.37 L 1937.00 1407.37 Z M 1937.13 1407.37 A 2.63 2.63 0 1 0 1931.87 1407.37 A 2.63 2.63 0 1 0 1937.13 1407.37 Z M 1934.76 1397.61 L 1944.52 1394.07 L 1941.95 1389.79 Z M 1945.86 1391.93 A 2.63 2.63 0 1 0 1940.61 1391.93 A 2.63 2.63 0 1 0 1945.86 1391.93 Z M 1934.76 1396.75 L 1927.05 1389.79 L 1924.48 1394.07 Z M 1928.39 1391.93 A 2.63 2.63 0 1 0 1923.14 1391.93 A 2.63 2.63 0 1 0 1928.39 1391.93 Z M 1934.24 1396.75 L 1924.48 1400.29 L 1927.05 1404.57 Z M 1928.39 1402.43 A 2.63 2.63 0 1 0 1923.14 1402.43 A 2.63 2.63 0 1 0 1928.39 1402.43 Z M 1934.24 1397.61 L 1941.95 1404.57 L 1944.52 1400.29 Z M 1945.86 1402.43 A 2.63 2.63 0 1 0 1940.61 1402.43 A 2.63 2.63 0 1 0 1945.86 1402.43 Z M 1935.60 1397.18 A 1.1 1.1 0 1 0 1933.40 1397.18 A 1.1 1.1 0 1 0 1935.60 1397.18 Z" fill="#000"/>
<path d="M 1967.90 1379.30 L 1967.90 1409.10 L 1963.96 1409.10 L 1963.96 1387.94 L 1956.90 1387.94 Q 1956.90 1385.26 1956.90 1385.26 Q 1963.46 1384.37 1963.76 1379.30 Z" fill="#000"/></svg></body></html>
